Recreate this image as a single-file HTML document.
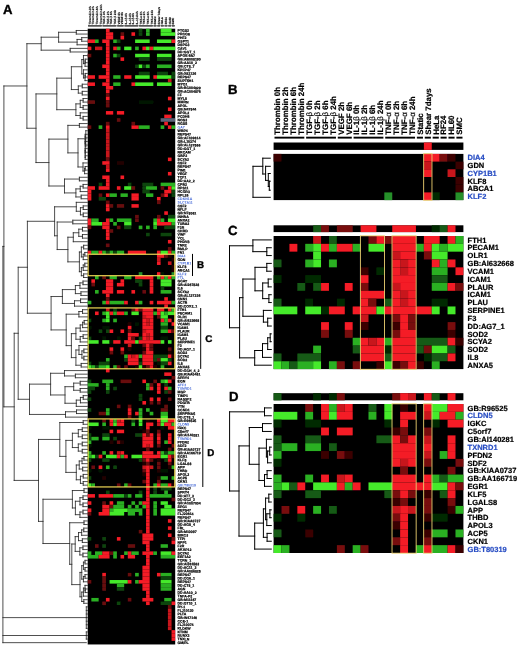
<!DOCTYPE html>
<html><head><meta charset="utf-8"><title>Figure</title>
<style>html,body{margin:0;padding:0;background:#fff}svg{display:block}text{font-family:"Liberation Sans", Arial, Helvetica, sans-serif;font-weight:bold;fill:#000;text-rendering:geometricPrecision}</style>
</head><body>
<svg width="520" height="646" viewBox="0 0 520 646">
<defs><filter id="bl" x="-2%" y="-1%" width="104%" height="102%"><feGaussianBlur stdDeviation="0.75"/></filter>
<filter id="bl2" x="-2%" y="-2%" width="104%" height="104%"><feGaussianBlur stdDeviation="0.5"/></filter></defs>
<rect width="520" height="646" fill="#fff"/>
<text x="3" y="13.8" font-size="13.2" stroke="#000" stroke-width="0.35">A</text>
<text x="228" y="94.1" font-size="13.2" stroke="#000" stroke-width="0.35">B</text>
<text x="228" y="235.2" font-size="13.2" stroke="#000" stroke-width="0.35">C</text>
<text x="229" y="401" font-size="13.2" stroke="#000" stroke-width="0.35">D</text>
<g id="panelA">
<g filter="url(#bl)">
<rect x="87.7" y="28.7" width="87.5" height="615.76" fill="#000"/>
<rect x="105.93" y="28.7" width="3.65" height="3.58" fill="#f41a26"/>
<rect x="138.74" y="28.7" width="3.65" height="3.58" fill="#0d450d"/>
<rect x="146.03" y="28.7" width="3.65" height="3.58" fill="#2cb024"/>
<rect x="160.62" y="28.7" width="10.94" height="3.58" fill="#44ea2c"/>
<rect x="105.93" y="32.28" width="7.29" height="3.58" fill="#f41a26"/>
<rect x="120.51" y="32.28" width="3.65" height="3.58" fill="#680a0e"/>
<rect x="131.45" y="32.28" width="3.65" height="3.58" fill="#f41a26"/>
<rect x="138.74" y="32.28" width="3.65" height="3.58" fill="#0d450d"/>
<rect x="146.03" y="32.28" width="3.65" height="3.58" fill="#2cb024"/>
<rect x="160.62" y="32.28" width="14.58" height="3.58" fill="#44ea2c"/>
<rect x="105.93" y="35.86" width="7.29" height="3.58" fill="#f41a26"/>
<rect x="120.51" y="35.86" width="3.65" height="3.58" fill="#f41a26"/>
<rect x="87.7" y="39.44" width="7.29" height="3.58" fill="#f41a26"/>
<rect x="94.99" y="39.44" width="3.65" height="3.58" fill="#2cb024"/>
<rect x="102.28" y="39.44" width="7.29" height="3.58" fill="#f41a26"/>
<rect x="113.22" y="39.44" width="3.65" height="3.58" fill="#2cb024"/>
<rect x="116.87" y="39.44" width="3.65" height="3.58" fill="#0d450d"/>
<rect x="135.1" y="39.44" width="14.58" height="3.58" fill="#44ea2c"/>
<rect x="156.97" y="39.44" width="14.58" height="3.58" fill="#44ea2c"/>
<rect x="171.55" y="39.44" width="3.65" height="3.58" fill="#f41a26"/>
<rect x="105.93" y="43.02" width="3.65" height="3.58" fill="#f41a26"/>
<rect x="87.7" y="46.6" width="3.65" height="3.58" fill="#f41a26"/>
<rect x="94.99" y="46.6" width="7.29" height="3.58" fill="#c8161e"/>
<rect x="105.93" y="46.6" width="3.65" height="3.58" fill="#f41a26"/>
<rect x="113.22" y="46.6" width="3.65" height="3.58" fill="#f41a26"/>
<rect x="116.87" y="46.6" width="3.65" height="3.58" fill="#2cb024"/>
<rect x="124.16" y="46.6" width="7.29" height="3.58" fill="#44ea2c"/>
<rect x="135.1" y="46.6" width="3.65" height="3.58" fill="#2cb024"/>
<rect x="142.39" y="46.6" width="3.65" height="3.58" fill="#f41a26"/>
<rect x="146.03" y="46.6" width="3.65" height="3.58" fill="#44ea2c"/>
<rect x="149.68" y="46.6" width="3.65" height="3.58" fill="#f41a26"/>
<rect x="153.32" y="46.6" width="21.87" height="3.58" fill="#44ea2c"/>
<rect x="105.93" y="50.18" width="3.65" height="3.58" fill="#f41a26"/>
<rect x="87.7" y="53.76" width="3.65" height="3.58" fill="#680a0e"/>
<rect x="105.93" y="53.76" width="3.65" height="3.58" fill="#f41a26"/>
<rect x="113.22" y="53.76" width="3.65" height="3.58" fill="#2cb024"/>
<rect x="116.87" y="53.76" width="3.65" height="3.58" fill="#0d450d"/>
<rect x="135.1" y="53.76" width="14.58" height="3.58" fill="#44ea2c"/>
<rect x="156.97" y="53.76" width="14.58" height="3.58" fill="#44ea2c"/>
<rect x="105.93" y="57.34" width="3.65" height="3.58" fill="#f41a26"/>
<rect x="120.51" y="57.34" width="3.65" height="3.58" fill="#f41a26"/>
<rect x="138.74" y="57.34" width="10.94" height="3.58" fill="#0d450d"/>
<rect x="156.97" y="57.34" width="14.58" height="3.58" fill="#0d450d"/>
<rect x="105.93" y="60.92" width="3.65" height="3.58" fill="#f41a26"/>
<rect x="102.28" y="64.5" width="7.29" height="3.58" fill="#f41a26"/>
<rect x="135.1" y="64.5" width="3.65" height="3.58" fill="#0d450d"/>
<rect x="138.74" y="64.5" width="3.65" height="3.58" fill="#44ea2c"/>
<rect x="142.39" y="64.5" width="3.65" height="3.58" fill="#0d450d"/>
<rect x="146.03" y="64.5" width="3.65" height="3.58" fill="#2cb024"/>
<rect x="156.97" y="64.5" width="14.58" height="3.58" fill="#2cb024"/>
<rect x="105.93" y="68.08" width="3.65" height="3.58" fill="#f41a26"/>
<rect x="105.93" y="71.66" width="3.65" height="3.58" fill="#f41a26"/>
<rect x="138.74" y="71.66" width="10.94" height="3.58" fill="#0d450d"/>
<rect x="156.97" y="71.66" width="10.94" height="3.58" fill="#0d450d"/>
<rect x="171.55" y="71.66" width="3.65" height="3.58" fill="#0d450d"/>
<rect x="87.7" y="75.24" width="7.29" height="3.58" fill="#f41a26"/>
<rect x="98.64" y="75.24" width="10.94" height="3.58" fill="#f41a26"/>
<rect x="113.22" y="75.24" width="7.29" height="3.58" fill="#2cb024"/>
<rect x="124.16" y="75.24" width="7.29" height="3.58" fill="#f41a26"/>
<rect x="135.1" y="75.24" width="14.58" height="3.58" fill="#44ea2c"/>
<rect x="153.32" y="75.24" width="3.65" height="3.58" fill="#f41a26"/>
<rect x="156.97" y="75.24" width="14.58" height="3.58" fill="#44ea2c"/>
<rect x="171.55" y="75.24" width="3.65" height="3.58" fill="#0d450d"/>
<rect x="105.93" y="78.82" width="3.65" height="3.58" fill="#f41a26"/>
<rect x="167.91" y="78.82" width="3.65" height="3.58" fill="#c8161e"/>
<rect x="87.7" y="82.4" width="7.29" height="3.58" fill="#f41a26"/>
<rect x="102.28" y="82.4" width="7.29" height="3.58" fill="#f41a26"/>
<rect x="113.22" y="82.4" width="7.29" height="3.58" fill="#2cb024"/>
<rect x="131.45" y="82.4" width="3.65" height="3.58" fill="#f41a26"/>
<rect x="135.1" y="82.4" width="18.23" height="3.58" fill="#44ea2c"/>
<rect x="156.97" y="82.4" width="14.58" height="3.58" fill="#44ea2c"/>
<rect x="105.93" y="85.98" width="7.29" height="3.58" fill="#f41a26"/>
<rect x="105.93" y="89.56" width="3.65" height="3.58" fill="#f41a26"/>
<rect x="105.93" y="93.14" width="3.65" height="3.58" fill="#680a0e"/>
<rect x="105.93" y="96.72" width="3.65" height="3.58" fill="#f41a26"/>
<rect x="167.91" y="96.72" width="3.65" height="3.58" fill="#f41a26"/>
<rect x="87.7" y="100.3" width="7.29" height="3.58" fill="#680a0e"/>
<rect x="105.93" y="100.3" width="3.65" height="3.58" fill="#680a0e"/>
<rect x="138.74" y="100.3" width="14.58" height="3.58" fill="#031803"/>
<rect x="105.93" y="103.88" width="3.65" height="3.58" fill="#680a0e"/>
<rect x="167.91" y="107.46" width="3.65" height="3.58" fill="#f41a26"/>
<rect x="105.93" y="111.04" width="7.29" height="3.58" fill="#f41a26"/>
<rect x="116.87" y="111.04" width="7.29" height="3.58" fill="#f41a26"/>
<rect x="164.26" y="114.62" width="7.29" height="3.58" fill="#f41a26"/>
<rect x="116.87" y="118.2" width="3.65" height="3.58" fill="#680a0e"/>
<rect x="160.62" y="118.2" width="14.58" height="3.58" fill="#5c6478"/>
<rect x="105.93" y="121.78" width="3.65" height="3.58" fill="#680a0e"/>
<rect x="131.45" y="121.78" width="3.65" height="3.58" fill="#680a0e"/>
<rect x="164.26" y="121.78" width="3.65" height="3.58" fill="#f41a26"/>
<rect x="87.7" y="125.36" width="3.65" height="3.58" fill="#680a0e"/>
<rect x="98.64" y="125.36" width="3.65" height="3.58" fill="#2cb024"/>
<rect x="105.93" y="125.36" width="3.65" height="3.58" fill="#f41a26"/>
<rect x="131.45" y="125.36" width="7.29" height="3.58" fill="#f41a26"/>
<rect x="138.74" y="125.36" width="10.94" height="3.58" fill="#2cb024"/>
<rect x="160.62" y="125.36" width="3.65" height="3.58" fill="#2cb024"/>
<rect x="167.91" y="125.36" width="3.65" height="3.58" fill="#f41a26"/>
<rect x="171.55" y="125.36" width="3.65" height="3.58" fill="#2cb024"/>
<rect x="105.93" y="128.94" width="3.65" height="3.58" fill="#c8161e"/>
<rect x="105.93" y="132.52" width="3.65" height="3.58" fill="#c8161e"/>
<rect x="105.93" y="136.1" width="3.65" height="3.58" fill="#c8161e"/>
<rect x="105.93" y="139.68" width="3.65" height="3.58" fill="#c8161e"/>
<rect x="105.93" y="143.26" width="3.65" height="3.58" fill="#c8161e"/>
<rect x="105.93" y="146.84" width="3.65" height="3.58" fill="#c8161e"/>
<rect x="105.93" y="150.42" width="3.65" height="3.58" fill="#c8161e"/>
<rect x="105.93" y="154" width="3.65" height="3.58" fill="#c8161e"/>
<rect x="105.93" y="157.58" width="3.65" height="3.58" fill="#680a0e"/>
<rect x="167.91" y="157.58" width="3.65" height="3.58" fill="#f41a26"/>
<rect x="102.28" y="161.16" width="7.29" height="3.58" fill="#f41a26"/>
<rect x="116.87" y="161.16" width="7.29" height="3.58" fill="#240203"/>
<rect x="105.93" y="164.74" width="3.65" height="3.58" fill="#c8161e"/>
<rect x="105.93" y="168.32" width="3.65" height="3.58" fill="#f41a26"/>
<rect x="167.91" y="171.9" width="3.65" height="3.58" fill="#f41a26"/>
<rect x="102.28" y="175.48" width="7.29" height="3.58" fill="#f41a26"/>
<rect x="120.51" y="175.48" width="3.65" height="3.58" fill="#f41a26"/>
<rect x="105.93" y="179.06" width="3.65" height="3.58" fill="#f41a26"/>
<rect x="98.64" y="182.64" width="3.65" height="3.58" fill="#0d450d"/>
<rect x="105.93" y="182.64" width="3.65" height="3.58" fill="#f41a26"/>
<rect x="127.8" y="182.64" width="3.65" height="3.58" fill="#0d450d"/>
<rect x="142.39" y="182.64" width="10.94" height="3.58" fill="#0d450d"/>
<rect x="160.62" y="182.64" width="14.58" height="3.58" fill="#2cb024"/>
<rect x="87.7" y="186.22" width="7.29" height="3.58" fill="#f41a26"/>
<rect x="98.64" y="186.22" width="10.94" height="3.58" fill="#f41a26"/>
<rect x="116.87" y="186.22" width="3.65" height="3.58" fill="#f41a26"/>
<rect x="124.16" y="186.22" width="7.29" height="3.58" fill="#44ea2c"/>
<rect x="131.45" y="186.22" width="3.65" height="3.58" fill="#680a0e"/>
<rect x="142.39" y="186.22" width="3.65" height="3.58" fill="#0d450d"/>
<rect x="146.03" y="186.22" width="10.94" height="3.58" fill="#2cb024"/>
<rect x="160.62" y="186.22" width="3.65" height="3.58" fill="#680a0e"/>
<rect x="167.91" y="186.22" width="3.65" height="3.58" fill="#f41a26"/>
<rect x="171.55" y="186.22" width="3.65" height="3.58" fill="#44ea2c"/>
<rect x="87.7" y="189.8" width="3.65" height="3.58" fill="#f41a26"/>
<rect x="142.39" y="189.8" width="7.29" height="3.58" fill="#0d450d"/>
<rect x="164.26" y="189.8" width="7.29" height="3.58" fill="#f41a26"/>
<rect x="171.55" y="189.8" width="3.65" height="3.58" fill="#0d450d"/>
<rect x="87.7" y="193.38" width="3.65" height="3.58" fill="#f41a26"/>
<rect x="98.64" y="193.38" width="3.65" height="3.58" fill="#680a0e"/>
<rect x="105.93" y="193.38" width="3.65" height="3.58" fill="#f41a26"/>
<rect x="109.58" y="193.38" width="7.29" height="3.58" fill="#2cb024"/>
<rect x="120.51" y="193.38" width="7.29" height="3.58" fill="#2cb024"/>
<rect x="131.45" y="193.38" width="7.29" height="3.58" fill="#f41a26"/>
<rect x="146.03" y="193.38" width="7.29" height="3.58" fill="#2cb024"/>
<rect x="160.62" y="193.38" width="3.65" height="3.58" fill="#680a0e"/>
<rect x="164.26" y="193.38" width="3.65" height="3.58" fill="#f41a26"/>
<rect x="171.55" y="193.38" width="3.65" height="3.58" fill="#0d450d"/>
<rect x="87.7" y="196.96" width="3.65" height="3.58" fill="#f41a26"/>
<rect x="98.64" y="196.96" width="7.29" height="3.58" fill="#0d450d"/>
<rect x="131.45" y="196.96" width="7.29" height="3.58" fill="#f41a26"/>
<rect x="156.97" y="196.96" width="3.65" height="3.58" fill="#f41a26"/>
<rect x="105.93" y="200.54" width="3.65" height="3.58" fill="#680a0e"/>
<rect x="156.97" y="200.54" width="3.65" height="3.58" fill="#680a0e"/>
<rect x="105.93" y="204.12" width="3.65" height="3.58" fill="#f41a26"/>
<rect x="109.58" y="204.12" width="3.65" height="3.58" fill="#680a0e"/>
<rect x="116.87" y="204.12" width="7.29" height="3.58" fill="#680a0e"/>
<rect x="131.45" y="204.12" width="7.29" height="3.58" fill="#f41a26"/>
<rect x="105.93" y="207.7" width="3.65" height="3.58" fill="#f41a26"/>
<rect x="164.26" y="211.28" width="3.65" height="3.58" fill="#f41a26"/>
<rect x="135.1" y="214.86" width="3.65" height="3.58" fill="#680a0e"/>
<rect x="156.97" y="214.86" width="3.65" height="3.58" fill="#680a0e"/>
<rect x="167.91" y="214.86" width="7.29" height="3.58" fill="#0d450d"/>
<rect x="87.7" y="218.44" width="3.65" height="3.58" fill="#f41a26"/>
<rect x="91.35" y="218.44" width="7.29" height="3.58" fill="#2cb024"/>
<rect x="105.93" y="218.44" width="3.65" height="3.58" fill="#f41a26"/>
<rect x="109.58" y="218.44" width="3.65" height="3.58" fill="#2cb024"/>
<rect x="116.87" y="218.44" width="14.58" height="3.58" fill="#2cb024"/>
<rect x="135.1" y="218.44" width="3.65" height="3.58" fill="#680a0e"/>
<rect x="153.32" y="218.44" width="3.65" height="3.58" fill="#2cb024"/>
<rect x="156.97" y="218.44" width="3.65" height="3.58" fill="#f41a26"/>
<rect x="160.62" y="218.44" width="3.65" height="3.58" fill="#2cb024"/>
<rect x="167.91" y="218.44" width="7.29" height="3.58" fill="#44ea2c"/>
<rect x="87.7" y="222.02" width="3.65" height="3.58" fill="#f41a26"/>
<rect x="91.35" y="222.02" width="10.94" height="3.58" fill="#44ea2c"/>
<rect x="102.28" y="222.02" width="7.29" height="3.58" fill="#f41a26"/>
<rect x="113.22" y="222.02" width="3.65" height="3.58" fill="#2cb024"/>
<rect x="124.16" y="222.02" width="7.29" height="3.58" fill="#44ea2c"/>
<rect x="153.32" y="222.02" width="3.65" height="3.58" fill="#44ea2c"/>
<rect x="156.97" y="222.02" width="14.58" height="3.58" fill="#f41a26"/>
<rect x="171.55" y="222.02" width="3.65" height="3.58" fill="#2cb024"/>
<rect x="87.7" y="225.6" width="3.65" height="3.58" fill="#680a0e"/>
<rect x="102.28" y="225.6" width="7.29" height="3.58" fill="#f41a26"/>
<rect x="116.87" y="225.6" width="3.65" height="3.58" fill="#680a0e"/>
<rect x="124.16" y="225.6" width="7.29" height="3.58" fill="#0d450d"/>
<rect x="138.74" y="225.6" width="3.65" height="3.58" fill="#2cb024"/>
<rect x="146.03" y="225.6" width="3.65" height="3.58" fill="#2cb024"/>
<rect x="153.32" y="225.6" width="3.65" height="3.58" fill="#2cb024"/>
<rect x="164.26" y="225.6" width="10.94" height="3.58" fill="#0d450d"/>
<rect x="105.93" y="229.18" width="3.65" height="3.58" fill="#f41a26"/>
<rect x="109.58" y="229.18" width="3.65" height="3.58" fill="#680a0e"/>
<rect x="105.93" y="232.76" width="3.65" height="3.58" fill="#f41a26"/>
<rect x="146.03" y="232.76" width="3.65" height="3.58" fill="#0d450d"/>
<rect x="160.62" y="232.76" width="10.94" height="3.58" fill="#0d450d"/>
<rect x="105.93" y="236.34" width="3.65" height="3.58" fill="#f41a26"/>
<rect x="167.91" y="239.92" width="3.65" height="3.58" fill="#f41a26"/>
<rect x="105.93" y="243.5" width="3.65" height="3.58" fill="#680a0e"/>
<rect x="167.91" y="247.08" width="3.65" height="3.58" fill="#680a0e"/>
<rect x="87.7" y="250.66" width="3.65" height="3.58" fill="#f41a26"/>
<rect x="91.35" y="250.66" width="7.29" height="3.58" fill="#2cb024"/>
<rect x="98.64" y="250.66" width="3.65" height="3.58" fill="#f41a26"/>
<rect x="102.28" y="250.66" width="3.65" height="3.58" fill="#2cb024"/>
<rect x="105.93" y="250.66" width="3.65" height="3.58" fill="#0d450d"/>
<rect x="109.58" y="250.66" width="3.65" height="3.58" fill="#2cb024"/>
<rect x="113.22" y="250.66" width="3.65" height="3.58" fill="#0d450d"/>
<rect x="116.87" y="250.66" width="7.29" height="3.58" fill="#2cb024"/>
<rect x="127.8" y="250.66" width="18.23" height="3.58" fill="#f41a26"/>
<rect x="156.97" y="250.66" width="3.65" height="3.58" fill="#f41a26"/>
<rect x="160.62" y="250.66" width="7.29" height="3.58" fill="#44ea2c"/>
<rect x="167.91" y="250.66" width="3.65" height="3.58" fill="#f41a26"/>
<rect x="171.55" y="250.66" width="3.65" height="3.58" fill="#2cb024"/>
<rect x="87.7" y="254.24" width="3.65" height="3.58" fill="#240203"/>
<rect x="156.97" y="254.24" width="7.29" height="3.58" fill="#f41a26"/>
<rect x="164.26" y="254.24" width="3.65" height="3.58" fill="#680a0e"/>
<rect x="167.91" y="254.24" width="3.65" height="3.58" fill="#240203"/>
<rect x="156.97" y="257.82" width="3.65" height="3.58" fill="#c8161e"/>
<rect x="171.55" y="257.82" width="3.65" height="3.58" fill="#240203"/>
<rect x="156.97" y="261.4" width="3.65" height="3.58" fill="#f41a26"/>
<rect x="167.91" y="261.4" width="3.65" height="3.58" fill="#c8161e"/>
<rect x="171.55" y="264.98" width="3.65" height="3.58" fill="#240203"/>
<rect x="171.55" y="268.56" width="3.65" height="3.58" fill="#240203"/>
<rect x="138.74" y="272.14" width="3.65" height="3.58" fill="#25902a"/>
<rect x="156.97" y="272.14" width="3.65" height="3.58" fill="#f41a26"/>
<rect x="160.62" y="272.14" width="3.65" height="3.58" fill="#031803"/>
<rect x="171.55" y="272.14" width="3.65" height="3.58" fill="#25902a"/>
<rect x="94.99" y="275.72" width="3.65" height="3.58" fill="#2cb024"/>
<rect x="102.28" y="275.72" width="3.65" height="3.58" fill="#680a0e"/>
<rect x="109.58" y="275.72" width="7.29" height="3.58" fill="#2cb024"/>
<rect x="124.16" y="275.72" width="7.29" height="3.58" fill="#2cb024"/>
<rect x="135.1" y="275.72" width="18.23" height="3.58" fill="#f41a26"/>
<rect x="156.97" y="275.72" width="3.65" height="3.58" fill="#2cb024"/>
<rect x="160.62" y="275.72" width="3.65" height="3.58" fill="#f41a26"/>
<rect x="164.26" y="275.72" width="3.65" height="3.58" fill="#2cb024"/>
<rect x="167.91" y="275.72" width="3.65" height="3.58" fill="#f41a26"/>
<rect x="171.55" y="275.72" width="3.65" height="3.58" fill="#2cb024"/>
<rect x="91.35" y="279.3" width="3.65" height="3.58" fill="#f41a26"/>
<rect x="105.93" y="279.3" width="7.29" height="3.58" fill="#f41a26"/>
<rect x="120.51" y="279.3" width="3.65" height="3.58" fill="#f41a26"/>
<rect x="135.1" y="279.3" width="7.29" height="3.58" fill="#0d450d"/>
<rect x="149.68" y="279.3" width="3.65" height="3.58" fill="#f41a26"/>
<rect x="160.62" y="279.3" width="10.94" height="3.58" fill="#44ea2c"/>
<rect x="91.35" y="282.88" width="3.65" height="3.58" fill="#680a0e"/>
<rect x="105.93" y="282.88" width="7.29" height="3.58" fill="#f41a26"/>
<rect x="116.87" y="282.88" width="7.29" height="3.58" fill="#f41a26"/>
<rect x="138.74" y="282.88" width="3.65" height="3.58" fill="#0d450d"/>
<rect x="149.68" y="282.88" width="3.65" height="3.58" fill="#f41a26"/>
<rect x="160.62" y="282.88" width="10.94" height="3.58" fill="#44ea2c"/>
<rect x="105.93" y="286.46" width="7.29" height="3.58" fill="#f41a26"/>
<rect x="149.68" y="286.46" width="3.65" height="3.58" fill="#f41a26"/>
<rect x="160.62" y="286.46" width="3.65" height="3.58" fill="#0d450d"/>
<rect x="94.99" y="290.04" width="3.65" height="3.58" fill="#2cb024"/>
<rect x="102.28" y="290.04" width="10.94" height="3.58" fill="#f41a26"/>
<rect x="116.87" y="290.04" width="7.29" height="3.58" fill="#f41a26"/>
<rect x="131.45" y="290.04" width="3.65" height="3.58" fill="#f41a26"/>
<rect x="142.39" y="290.04" width="3.65" height="3.58" fill="#680a0e"/>
<rect x="149.68" y="290.04" width="3.65" height="3.58" fill="#f41a26"/>
<rect x="160.62" y="290.04" width="10.94" height="3.58" fill="#2cb024"/>
<rect x="105.93" y="293.62" width="3.65" height="3.58" fill="#f41a26"/>
<rect x="105.93" y="297.2" width="3.65" height="3.58" fill="#680a0e"/>
<rect x="164.26" y="297.2" width="3.65" height="3.58" fill="#f41a26"/>
<rect x="87.7" y="300.78" width="3.65" height="3.58" fill="#2cb024"/>
<rect x="102.28" y="300.78" width="3.65" height="3.58" fill="#2cb024"/>
<rect x="105.93" y="300.78" width="3.65" height="3.58" fill="#f41a26"/>
<rect x="109.58" y="300.78" width="14.58" height="3.58" fill="#2cb024"/>
<rect x="124.16" y="300.78" width="3.65" height="3.58" fill="#f41a26"/>
<rect x="135.1" y="300.78" width="3.65" height="3.58" fill="#f41a26"/>
<rect x="138.74" y="300.78" width="3.65" height="3.58" fill="#2cb024"/>
<rect x="149.68" y="300.78" width="3.65" height="3.58" fill="#f41a26"/>
<rect x="156.97" y="300.78" width="14.58" height="3.58" fill="#f41a26"/>
<rect x="171.55" y="300.78" width="3.65" height="3.58" fill="#2cb024"/>
<rect x="164.26" y="304.36" width="3.65" height="3.58" fill="#f41a26"/>
<rect x="105.93" y="307.94" width="3.65" height="3.58" fill="#c8161e"/>
<rect x="113.22" y="307.94" width="3.65" height="3.58" fill="#0d450d"/>
<rect x="131.45" y="307.94" width="3.65" height="3.58" fill="#680a0e"/>
<rect x="135.1" y="307.94" width="3.65" height="3.58" fill="#f41a26"/>
<rect x="138.74" y="307.94" width="3.65" height="3.58" fill="#680a0e"/>
<rect x="142.39" y="307.94" width="10.94" height="3.58" fill="#f41a26"/>
<rect x="156.97" y="307.94" width="7.29" height="3.58" fill="#f41a26"/>
<rect x="167.91" y="307.94" width="3.65" height="3.58" fill="#f41a26"/>
<rect x="171.55" y="307.94" width="3.65" height="3.58" fill="#2cb024"/>
<rect x="94.99" y="311.52" width="3.65" height="3.58" fill="#f41a26"/>
<rect x="102.28" y="311.52" width="3.65" height="3.58" fill="#2cb024"/>
<rect x="105.93" y="311.52" width="3.65" height="3.58" fill="#44ea2c"/>
<rect x="109.58" y="311.52" width="3.65" height="3.58" fill="#f41a26"/>
<rect x="113.22" y="311.52" width="3.65" height="3.58" fill="#2cb024"/>
<rect x="116.87" y="311.52" width="7.29" height="3.58" fill="#f41a26"/>
<rect x="124.16" y="311.52" width="3.65" height="3.58" fill="#2cb024"/>
<rect x="131.45" y="311.52" width="7.29" height="3.58" fill="#44ea2c"/>
<rect x="142.39" y="311.52" width="10.94" height="3.58" fill="#f41a26"/>
<rect x="153.32" y="311.52" width="3.65" height="3.58" fill="#2cb024"/>
<rect x="156.97" y="311.52" width="3.65" height="3.58" fill="#f41a26"/>
<rect x="160.62" y="311.52" width="3.65" height="3.58" fill="#44ea2c"/>
<rect x="164.26" y="311.52" width="3.65" height="3.58" fill="#2cb024"/>
<rect x="167.91" y="311.52" width="7.29" height="3.58" fill="#44ea2c"/>
<rect x="105.93" y="315.1" width="3.65" height="3.58" fill="#44ea2c"/>
<rect x="142.39" y="315.1" width="3.65" height="3.58" fill="#c8161e"/>
<rect x="146.03" y="315.1" width="7.29" height="3.58" fill="#f41a26"/>
<rect x="156.97" y="315.1" width="3.65" height="3.58" fill="#680a0e"/>
<rect x="160.62" y="315.1" width="7.29" height="3.58" fill="#44ea2c"/>
<rect x="87.7" y="318.68" width="3.65" height="3.58" fill="#0d450d"/>
<rect x="102.28" y="318.68" width="3.65" height="3.58" fill="#2cb024"/>
<rect x="105.93" y="318.68" width="3.65" height="3.58" fill="#44ea2c"/>
<rect x="113.22" y="318.68" width="3.65" height="3.58" fill="#2cb024"/>
<rect x="142.39" y="318.68" width="3.65" height="3.58" fill="#f41a26"/>
<rect x="146.03" y="318.68" width="3.65" height="3.58" fill="#c8161e"/>
<rect x="149.68" y="318.68" width="3.65" height="3.58" fill="#f41a26"/>
<rect x="160.62" y="318.68" width="3.65" height="3.58" fill="#f41a26"/>
<rect x="164.26" y="318.68" width="3.65" height="3.58" fill="#2cb024"/>
<rect x="167.91" y="318.68" width="3.65" height="3.58" fill="#f41a26"/>
<rect x="127.8" y="322.26" width="3.65" height="3.58" fill="#240203"/>
<rect x="135.1" y="322.26" width="3.65" height="3.58" fill="#031803"/>
<rect x="142.39" y="322.26" width="3.65" height="3.58" fill="#f41a26"/>
<rect x="146.03" y="322.26" width="3.65" height="3.58" fill="#c8161e"/>
<rect x="149.68" y="322.26" width="3.65" height="3.58" fill="#f41a26"/>
<rect x="160.62" y="322.26" width="7.29" height="3.58" fill="#2cb024"/>
<rect x="171.55" y="322.26" width="3.65" height="3.58" fill="#f41a26"/>
<rect x="87.7" y="325.84" width="3.65" height="3.58" fill="#031803"/>
<rect x="102.28" y="325.84" width="7.29" height="3.58" fill="#031803"/>
<rect x="127.8" y="325.84" width="3.65" height="3.58" fill="#f41a26"/>
<rect x="142.39" y="325.84" width="10.94" height="3.58" fill="#f41a26"/>
<rect x="160.62" y="325.84" width="7.29" height="3.58" fill="#0d450d"/>
<rect x="98.64" y="329.42" width="3.65" height="3.58" fill="#0d450d"/>
<rect x="105.93" y="329.42" width="3.65" height="3.58" fill="#0d450d"/>
<rect x="109.58" y="329.42" width="3.65" height="3.58" fill="#f41a26"/>
<rect x="120.51" y="329.42" width="3.65" height="3.58" fill="#f41a26"/>
<rect x="127.8" y="329.42" width="3.65" height="3.58" fill="#680a0e"/>
<rect x="142.39" y="329.42" width="3.65" height="3.58" fill="#c8161e"/>
<rect x="146.03" y="329.42" width="7.29" height="3.58" fill="#f41a26"/>
<rect x="160.62" y="329.42" width="7.29" height="3.58" fill="#2cb024"/>
<rect x="167.91" y="329.42" width="3.65" height="3.58" fill="#f41a26"/>
<rect x="171.55" y="329.42" width="3.65" height="3.58" fill="#680a0e"/>
<rect x="127.8" y="333" width="10.94" height="3.58" fill="#f41a26"/>
<rect x="142.39" y="333" width="3.65" height="3.58" fill="#f41a26"/>
<rect x="146.03" y="333" width="3.65" height="3.58" fill="#c8161e"/>
<rect x="149.68" y="333" width="3.65" height="3.58" fill="#f41a26"/>
<rect x="87.7" y="336.58" width="3.65" height="3.58" fill="#0d450d"/>
<rect x="102.28" y="336.58" width="3.65" height="3.58" fill="#031803"/>
<rect x="116.87" y="336.58" width="3.65" height="3.58" fill="#031803"/>
<rect x="127.8" y="336.58" width="3.65" height="3.58" fill="#f41a26"/>
<rect x="131.45" y="336.58" width="3.65" height="3.58" fill="#680a0e"/>
<rect x="138.74" y="336.58" width="3.65" height="3.58" fill="#0d450d"/>
<rect x="142.39" y="336.58" width="3.65" height="3.58" fill="#f41a26"/>
<rect x="146.03" y="336.58" width="3.65" height="3.58" fill="#c8161e"/>
<rect x="149.68" y="336.58" width="3.65" height="3.58" fill="#f41a26"/>
<rect x="160.62" y="336.58" width="7.29" height="3.58" fill="#031803"/>
<rect x="87.7" y="340.16" width="10.94" height="3.58" fill="#44ea2c"/>
<rect x="102.28" y="340.16" width="7.29" height="3.58" fill="#44ea2c"/>
<rect x="109.58" y="340.16" width="3.65" height="3.58" fill="#031803"/>
<rect x="113.22" y="340.16" width="7.29" height="3.58" fill="#f41a26"/>
<rect x="124.16" y="340.16" width="10.94" height="3.58" fill="#f41a26"/>
<rect x="135.1" y="340.16" width="3.65" height="3.58" fill="#44ea2c"/>
<rect x="138.74" y="340.16" width="21.87" height="3.58" fill="#f41a26"/>
<rect x="160.62" y="340.16" width="3.65" height="3.58" fill="#44ea2c"/>
<rect x="167.91" y="340.16" width="3.65" height="3.58" fill="#44ea2c"/>
<rect x="127.8" y="343.74" width="3.65" height="3.58" fill="#c8161e"/>
<rect x="142.39" y="343.74" width="3.65" height="3.58" fill="#680a0e"/>
<rect x="146.03" y="343.74" width="3.65" height="3.58" fill="#f41a26"/>
<rect x="149.68" y="343.74" width="3.65" height="3.58" fill="#680a0e"/>
<rect x="109.58" y="347.32" width="3.65" height="3.58" fill="#f41a26"/>
<rect x="120.51" y="347.32" width="3.65" height="3.58" fill="#f41a26"/>
<rect x="127.8" y="347.32" width="3.65" height="3.58" fill="#240203"/>
<rect x="142.39" y="347.32" width="3.65" height="3.58" fill="#240203"/>
<rect x="146.03" y="347.32" width="3.65" height="3.58" fill="#f41a26"/>
<rect x="149.68" y="347.32" width="3.65" height="3.58" fill="#680a0e"/>
<rect x="167.91" y="347.32" width="3.65" height="3.58" fill="#680a0e"/>
<rect x="109.58" y="350.9" width="3.65" height="3.58" fill="#680a0e"/>
<rect x="120.51" y="350.9" width="3.65" height="3.58" fill="#680a0e"/>
<rect x="142.39" y="350.9" width="3.65" height="3.58" fill="#680a0e"/>
<rect x="146.03" y="350.9" width="7.29" height="3.58" fill="#f41a26"/>
<rect x="167.91" y="350.9" width="3.65" height="3.58" fill="#240203"/>
<rect x="124.16" y="354.48" width="3.65" height="3.58" fill="#2cb024"/>
<rect x="127.8" y="354.48" width="3.65" height="3.58" fill="#f41a26"/>
<rect x="131.45" y="354.48" width="3.65" height="3.58" fill="#c8161e"/>
<rect x="135.1" y="354.48" width="3.65" height="3.58" fill="#f41a26"/>
<rect x="138.74" y="354.48" width="3.65" height="3.58" fill="#2cb024"/>
<rect x="142.39" y="354.48" width="10.94" height="3.58" fill="#f41a26"/>
<rect x="153.32" y="354.48" width="14.58" height="3.58" fill="#0d450d"/>
<rect x="167.91" y="354.48" width="3.65" height="3.58" fill="#f41a26"/>
<rect x="171.55" y="354.48" width="3.65" height="3.58" fill="#240203"/>
<rect x="105.93" y="358.06" width="3.65" height="3.58" fill="#2cb024"/>
<rect x="124.16" y="358.06" width="3.65" height="3.58" fill="#0d450d"/>
<rect x="127.8" y="358.06" width="10.94" height="3.58" fill="#f41a26"/>
<rect x="138.74" y="358.06" width="3.65" height="3.58" fill="#031803"/>
<rect x="142.39" y="358.06" width="10.94" height="3.58" fill="#f41a26"/>
<rect x="153.32" y="358.06" width="3.65" height="3.58" fill="#0d450d"/>
<rect x="156.97" y="358.06" width="3.65" height="3.58" fill="#680a0e"/>
<rect x="160.62" y="358.06" width="7.29" height="3.58" fill="#44ea2c"/>
<rect x="167.91" y="358.06" width="3.65" height="3.58" fill="#0d450d"/>
<rect x="87.7" y="361.64" width="3.65" height="3.58" fill="#0d450d"/>
<rect x="98.64" y="361.64" width="10.94" height="3.58" fill="#0d450d"/>
<rect x="127.8" y="361.64" width="10.94" height="3.58" fill="#f41a26"/>
<rect x="138.74" y="361.64" width="3.65" height="3.58" fill="#0d450d"/>
<rect x="142.39" y="361.64" width="10.94" height="3.58" fill="#f41a26"/>
<rect x="156.97" y="361.64" width="3.65" height="3.58" fill="#031803"/>
<rect x="160.62" y="361.64" width="7.29" height="3.58" fill="#0d450d"/>
<rect x="167.91" y="361.64" width="3.65" height="3.58" fill="#f41a26"/>
<rect x="87.7" y="365.22" width="3.65" height="3.58" fill="#44ea2c"/>
<rect x="91.35" y="365.22" width="3.65" height="3.58" fill="#2cb024"/>
<rect x="94.99" y="365.22" width="3.65" height="3.58" fill="#0d450d"/>
<rect x="98.64" y="365.22" width="7.29" height="3.58" fill="#2cb024"/>
<rect x="105.93" y="365.22" width="3.65" height="3.58" fill="#44ea2c"/>
<rect x="113.22" y="365.22" width="3.65" height="3.58" fill="#2cb024"/>
<rect x="116.87" y="365.22" width="3.65" height="3.58" fill="#680a0e"/>
<rect x="124.16" y="365.22" width="3.65" height="3.58" fill="#680a0e"/>
<rect x="135.1" y="365.22" width="3.65" height="3.58" fill="#240203"/>
<rect x="138.74" y="365.22" width="3.65" height="3.58" fill="#44ea2c"/>
<rect x="142.39" y="365.22" width="3.65" height="3.58" fill="#240203"/>
<rect x="146.03" y="365.22" width="3.65" height="3.58" fill="#680a0e"/>
<rect x="149.68" y="365.22" width="3.65" height="3.58" fill="#f41a26"/>
<rect x="153.32" y="365.22" width="3.65" height="3.58" fill="#240203"/>
<rect x="160.62" y="365.22" width="3.65" height="3.58" fill="#2cb024"/>
<rect x="105.93" y="368.8" width="3.65" height="3.58" fill="#f41a26"/>
<rect x="164.26" y="372.38" width="7.29" height="3.58" fill="#f41a26"/>
<rect x="171.55" y="375.96" width="3.65" height="3.58" fill="#680a0e"/>
<rect x="87.7" y="379.54" width="3.65" height="3.58" fill="#0d450d"/>
<rect x="102.28" y="379.54" width="10.94" height="3.58" fill="#2cb024"/>
<rect x="120.51" y="379.54" width="10.94" height="3.58" fill="#680a0e"/>
<rect x="142.39" y="379.54" width="3.65" height="3.58" fill="#f41a26"/>
<rect x="153.32" y="379.54" width="3.65" height="3.58" fill="#680a0e"/>
<rect x="160.62" y="379.54" width="3.65" height="3.58" fill="#2cb024"/>
<rect x="164.26" y="379.54" width="3.65" height="3.58" fill="#44ea2c"/>
<rect x="167.91" y="379.54" width="3.65" height="3.58" fill="#f41a26"/>
<rect x="87.7" y="383.12" width="10.94" height="3.58" fill="#2cb024"/>
<rect x="105.93" y="383.12" width="3.65" height="3.58" fill="#2cb024"/>
<rect x="146.03" y="383.12" width="3.65" height="3.58" fill="#2cb024"/>
<rect x="149.68" y="383.12" width="3.65" height="3.58" fill="#680a0e"/>
<rect x="156.97" y="383.12" width="3.65" height="3.58" fill="#f41a26"/>
<rect x="164.26" y="383.12" width="3.65" height="3.58" fill="#0d450d"/>
<rect x="87.7" y="386.7" width="7.29" height="3.58" fill="#0d450d"/>
<rect x="105.93" y="386.7" width="3.65" height="3.58" fill="#2cb024"/>
<rect x="113.22" y="386.7" width="3.65" height="3.58" fill="#0d450d"/>
<rect x="146.03" y="386.7" width="3.65" height="3.58" fill="#2cb024"/>
<rect x="149.68" y="386.7" width="3.65" height="3.58" fill="#f41a26"/>
<rect x="156.97" y="386.7" width="3.65" height="3.58" fill="#f41a26"/>
<rect x="164.26" y="386.7" width="3.65" height="3.58" fill="#f41a26"/>
<rect x="167.91" y="386.7" width="3.65" height="3.58" fill="#2cb024"/>
<rect x="87.7" y="390.28" width="3.65" height="3.58" fill="#0d450d"/>
<rect x="105.93" y="390.28" width="3.65" height="3.58" fill="#0d450d"/>
<rect x="156.97" y="390.28" width="3.65" height="3.58" fill="#f41a26"/>
<rect x="164.26" y="390.28" width="3.65" height="3.58" fill="#0d450d"/>
<rect x="167.91" y="390.28" width="3.65" height="3.58" fill="#680a0e"/>
<rect x="138.74" y="393.86" width="3.65" height="3.58" fill="#0d450d"/>
<rect x="87.7" y="397.44" width="3.65" height="3.58" fill="#0d450d"/>
<rect x="138.74" y="397.44" width="3.65" height="3.58" fill="#0d450d"/>
<rect x="149.68" y="397.44" width="3.65" height="3.58" fill="#f41a26"/>
<rect x="156.97" y="397.44" width="3.65" height="3.58" fill="#f41a26"/>
<rect x="167.91" y="397.44" width="3.65" height="3.58" fill="#680a0e"/>
<rect x="142.39" y="401.02" width="3.65" height="3.58" fill="#f41a26"/>
<rect x="149.68" y="401.02" width="3.65" height="3.58" fill="#680a0e"/>
<rect x="156.97" y="401.02" width="3.65" height="3.58" fill="#680a0e"/>
<rect x="116.87" y="404.6" width="3.65" height="3.58" fill="#680a0e"/>
<rect x="127.8" y="404.6" width="3.65" height="3.58" fill="#680a0e"/>
<rect x="164.26" y="404.6" width="3.65" height="3.58" fill="#680a0e"/>
<rect x="87.7" y="408.18" width="3.65" height="3.58" fill="#0d450d"/>
<rect x="105.93" y="408.18" width="3.65" height="3.58" fill="#2cb024"/>
<rect x="127.8" y="408.18" width="3.65" height="3.58" fill="#f41a26"/>
<rect x="138.74" y="408.18" width="3.65" height="3.58" fill="#2cb024"/>
<rect x="146.03" y="408.18" width="3.65" height="3.58" fill="#2cb024"/>
<rect x="160.62" y="408.18" width="7.29" height="3.58" fill="#680a0e"/>
<rect x="98.64" y="411.76" width="7.29" height="3.58" fill="#680a0e"/>
<rect x="105.93" y="411.76" width="3.65" height="3.58" fill="#2cb024"/>
<rect x="127.8" y="411.76" width="3.65" height="3.58" fill="#f41a26"/>
<rect x="135.1" y="411.76" width="3.65" height="3.58" fill="#f41a26"/>
<rect x="138.74" y="411.76" width="3.65" height="3.58" fill="#2cb024"/>
<rect x="149.68" y="411.76" width="3.65" height="3.58" fill="#2cb024"/>
<rect x="160.62" y="411.76" width="7.29" height="3.58" fill="#2cb024"/>
<rect x="127.8" y="415.34" width="3.65" height="3.58" fill="#680a0e"/>
<rect x="138.74" y="415.34" width="3.65" height="3.58" fill="#2cb024"/>
<rect x="160.62" y="415.34" width="7.29" height="3.58" fill="#44ea2c"/>
<rect x="102.28" y="418.92" width="3.65" height="3.58" fill="#680a0e"/>
<rect x="109.58" y="418.92" width="3.65" height="3.58" fill="#f41a26"/>
<rect x="113.22" y="418.92" width="3.65" height="3.58" fill="#2cb024"/>
<rect x="116.87" y="418.92" width="3.65" height="3.58" fill="#c8161e"/>
<rect x="120.51" y="418.92" width="3.65" height="3.58" fill="#f41a26"/>
<rect x="131.45" y="418.92" width="3.65" height="3.58" fill="#0d450d"/>
<rect x="138.74" y="418.92" width="3.65" height="3.58" fill="#44ea2c"/>
<rect x="146.03" y="418.92" width="3.65" height="3.58" fill="#240203"/>
<rect x="156.97" y="418.92" width="3.65" height="3.58" fill="#f41a26"/>
<rect x="160.62" y="418.92" width="7.29" height="3.58" fill="#44ea2c"/>
<rect x="167.91" y="418.92" width="7.29" height="3.58" fill="#f41a26"/>
<rect x="87.7" y="422.5" width="10.94" height="3.58" fill="#44ea2c"/>
<rect x="102.28" y="422.5" width="3.65" height="3.58" fill="#2cb024"/>
<rect x="109.58" y="422.5" width="3.65" height="3.58" fill="#f41a26"/>
<rect x="113.22" y="422.5" width="3.65" height="3.58" fill="#44ea2c"/>
<rect x="116.87" y="422.5" width="7.29" height="3.58" fill="#f41a26"/>
<rect x="131.45" y="422.5" width="3.65" height="3.58" fill="#2cb024"/>
<rect x="138.74" y="422.5" width="3.65" height="3.58" fill="#44ea2c"/>
<rect x="146.03" y="422.5" width="7.29" height="3.58" fill="#f41a26"/>
<rect x="156.97" y="422.5" width="3.65" height="3.58" fill="#c8161e"/>
<rect x="160.62" y="422.5" width="3.65" height="3.58" fill="#44ea2c"/>
<rect x="164.26" y="422.5" width="7.29" height="3.58" fill="#f41a26"/>
<rect x="171.55" y="422.5" width="3.65" height="3.58" fill="#2cb024"/>
<rect x="87.7" y="426.08" width="3.65" height="3.58" fill="#031803"/>
<rect x="102.28" y="426.08" width="7.29" height="3.58" fill="#031803"/>
<rect x="138.74" y="426.08" width="3.65" height="3.58" fill="#031803"/>
<rect x="146.03" y="426.08" width="3.65" height="3.58" fill="#f41a26"/>
<rect x="160.62" y="426.08" width="3.65" height="3.58" fill="#031803"/>
<rect x="167.91" y="426.08" width="7.29" height="3.58" fill="#f41a26"/>
<rect x="109.58" y="429.66" width="3.65" height="3.58" fill="#f41a26"/>
<rect x="116.87" y="429.66" width="7.29" height="3.58" fill="#f41a26"/>
<rect x="142.39" y="429.66" width="3.65" height="3.58" fill="#240203"/>
<rect x="146.03" y="429.66" width="3.65" height="3.58" fill="#680a0e"/>
<rect x="156.97" y="429.66" width="3.65" height="3.58" fill="#680a0e"/>
<rect x="87.7" y="433.24" width="3.65" height="3.58" fill="#0d450d"/>
<rect x="102.28" y="433.24" width="7.29" height="3.58" fill="#0d450d"/>
<rect x="135.1" y="433.24" width="7.29" height="3.58" fill="#0d450d"/>
<rect x="142.39" y="433.24" width="3.65" height="3.58" fill="#f41a26"/>
<rect x="146.03" y="433.24" width="3.65" height="3.58" fill="#680a0e"/>
<rect x="149.68" y="433.24" width="3.65" height="3.58" fill="#f41a26"/>
<rect x="156.97" y="433.24" width="3.65" height="3.58" fill="#c8161e"/>
<rect x="167.91" y="433.24" width="3.65" height="3.58" fill="#f41a26"/>
<rect x="87.7" y="436.82" width="3.65" height="3.58" fill="#0d450d"/>
<rect x="91.35" y="436.82" width="7.29" height="3.58" fill="#2cb024"/>
<rect x="102.28" y="436.82" width="7.29" height="3.58" fill="#2cb024"/>
<rect x="113.22" y="436.82" width="3.65" height="3.58" fill="#0d450d"/>
<rect x="142.39" y="436.82" width="10.94" height="3.58" fill="#f41a26"/>
<rect x="156.97" y="436.82" width="3.65" height="3.58" fill="#f41a26"/>
<rect x="167.91" y="436.82" width="3.65" height="3.58" fill="#f41a26"/>
<rect x="87.7" y="440.4" width="3.65" height="3.58" fill="#2cb024"/>
<rect x="109.58" y="440.4" width="3.65" height="3.58" fill="#240203"/>
<rect x="116.87" y="440.4" width="3.65" height="3.58" fill="#680a0e"/>
<rect x="120.51" y="440.4" width="3.65" height="3.58" fill="#240203"/>
<rect x="142.39" y="440.4" width="10.94" height="3.58" fill="#f41a26"/>
<rect x="156.97" y="440.4" width="3.65" height="3.58" fill="#c8161e"/>
<rect x="164.26" y="440.4" width="3.65" height="3.58" fill="#2cb024"/>
<rect x="167.91" y="440.4" width="3.65" height="3.58" fill="#f41a26"/>
<rect x="87.7" y="443.98" width="3.65" height="3.58" fill="#031803"/>
<rect x="142.39" y="443.98" width="3.65" height="3.58" fill="#f41a26"/>
<rect x="146.03" y="443.98" width="3.65" height="3.58" fill="#c8161e"/>
<rect x="149.68" y="443.98" width="3.65" height="3.58" fill="#f41a26"/>
<rect x="156.97" y="443.98" width="3.65" height="3.58" fill="#680a0e"/>
<rect x="171.55" y="443.98" width="3.65" height="3.58" fill="#680a0e"/>
<rect x="146.03" y="447.56" width="3.65" height="3.58" fill="#680a0e"/>
<rect x="167.91" y="447.56" width="3.65" height="3.58" fill="#680a0e"/>
<rect x="87.7" y="451.14" width="3.65" height="3.58" fill="#2cb024"/>
<rect x="102.28" y="451.14" width="3.65" height="3.58" fill="#2cb024"/>
<rect x="109.58" y="451.14" width="3.65" height="3.58" fill="#f41a26"/>
<rect x="116.87" y="451.14" width="3.65" height="3.58" fill="#c8161e"/>
<rect x="120.51" y="451.14" width="3.65" height="3.58" fill="#f41a26"/>
<rect x="142.39" y="451.14" width="10.94" height="3.58" fill="#f41a26"/>
<rect x="156.97" y="451.14" width="3.65" height="3.58" fill="#f41a26"/>
<rect x="160.62" y="451.14" width="3.65" height="3.58" fill="#2cb024"/>
<rect x="164.26" y="451.14" width="3.65" height="3.58" fill="#0d450d"/>
<rect x="167.91" y="451.14" width="7.29" height="3.58" fill="#2cb024"/>
<rect x="87.7" y="454.72" width="3.65" height="3.58" fill="#2cb024"/>
<rect x="91.35" y="454.72" width="3.65" height="3.58" fill="#44ea2c"/>
<rect x="94.99" y="454.72" width="3.65" height="3.58" fill="#0d450d"/>
<rect x="98.64" y="454.72" width="3.65" height="3.58" fill="#f41a26"/>
<rect x="105.93" y="454.72" width="10.94" height="3.58" fill="#44ea2c"/>
<rect x="116.87" y="454.72" width="3.65" height="3.58" fill="#f41a26"/>
<rect x="120.51" y="454.72" width="3.65" height="3.58" fill="#2cb024"/>
<rect x="124.16" y="454.72" width="3.65" height="3.58" fill="#f41a26"/>
<rect x="131.45" y="454.72" width="10.94" height="3.58" fill="#44ea2c"/>
<rect x="142.39" y="454.72" width="18.23" height="3.58" fill="#f41a26"/>
<rect x="160.62" y="454.72" width="7.29" height="3.58" fill="#44ea2c"/>
<rect x="167.91" y="454.72" width="3.65" height="3.58" fill="#f41a26"/>
<rect x="171.55" y="454.72" width="3.65" height="3.58" fill="#680a0e"/>
<rect x="87.7" y="458.3" width="3.65" height="3.58" fill="#0d450d"/>
<rect x="102.28" y="458.3" width="7.29" height="3.58" fill="#0d450d"/>
<rect x="138.74" y="458.3" width="3.65" height="3.58" fill="#0d450d"/>
<rect x="142.39" y="458.3" width="3.65" height="3.58" fill="#680a0e"/>
<rect x="146.03" y="458.3" width="3.65" height="3.58" fill="#f41a26"/>
<rect x="149.68" y="458.3" width="3.65" height="3.58" fill="#680a0e"/>
<rect x="156.97" y="458.3" width="3.65" height="3.58" fill="#240203"/>
<rect x="164.26" y="458.3" width="3.65" height="3.58" fill="#0d450d"/>
<rect x="167.91" y="458.3" width="3.65" height="3.58" fill="#f41a26"/>
<rect x="142.39" y="461.88" width="3.65" height="3.58" fill="#240203"/>
<rect x="146.03" y="461.88" width="3.65" height="3.58" fill="#680a0e"/>
<rect x="156.97" y="461.88" width="3.65" height="3.58" fill="#680a0e"/>
<rect x="167.91" y="461.88" width="3.65" height="3.58" fill="#680a0e"/>
<rect x="91.35" y="465.46" width="3.65" height="3.58" fill="#680a0e"/>
<rect x="98.64" y="465.46" width="3.65" height="3.58" fill="#f41a26"/>
<rect x="105.93" y="465.46" width="3.65" height="3.58" fill="#2cb024"/>
<rect x="113.22" y="465.46" width="3.65" height="3.58" fill="#0d450d"/>
<rect x="142.39" y="465.46" width="3.65" height="3.58" fill="#c8161e"/>
<rect x="146.03" y="465.46" width="3.65" height="3.58" fill="#f41a26"/>
<rect x="149.68" y="465.46" width="3.65" height="3.58" fill="#c8161e"/>
<rect x="156.97" y="465.46" width="3.65" height="3.58" fill="#680a0e"/>
<rect x="167.91" y="465.46" width="3.65" height="3.58" fill="#240203"/>
<rect x="171.55" y="465.46" width="3.65" height="3.58" fill="#2cb024"/>
<rect x="87.7" y="469.04" width="3.65" height="3.58" fill="#031803"/>
<rect x="98.64" y="469.04" width="3.65" height="3.58" fill="#031803"/>
<rect x="142.39" y="469.04" width="3.65" height="3.58" fill="#680a0e"/>
<rect x="146.03" y="469.04" width="3.65" height="3.58" fill="#f41a26"/>
<rect x="156.97" y="469.04" width="3.65" height="3.58" fill="#240203"/>
<rect x="160.62" y="469.04" width="7.29" height="3.58" fill="#031803"/>
<rect x="142.39" y="472.62" width="3.65" height="3.58" fill="#240203"/>
<rect x="146.03" y="472.62" width="3.65" height="3.58" fill="#f41a26"/>
<rect x="87.7" y="476.2" width="3.65" height="3.58" fill="#0d450d"/>
<rect x="102.28" y="476.2" width="3.65" height="3.58" fill="#240203"/>
<rect x="146.03" y="476.2" width="3.65" height="3.58" fill="#f41a26"/>
<rect x="156.97" y="476.2" width="3.65" height="3.58" fill="#240203"/>
<rect x="160.62" y="476.2" width="7.29" height="3.58" fill="#2cb024"/>
<rect x="171.55" y="476.2" width="3.65" height="3.58" fill="#2cb024"/>
<rect x="142.39" y="479.78" width="3.65" height="3.58" fill="#680a0e"/>
<rect x="146.03" y="479.78" width="3.65" height="3.58" fill="#f41a26"/>
<rect x="156.97" y="479.78" width="3.65" height="3.58" fill="#680a0e"/>
<rect x="87.7" y="483.36" width="3.65" height="3.58" fill="#44ea2c"/>
<rect x="91.35" y="483.36" width="3.65" height="3.58" fill="#2cb024"/>
<rect x="116.87" y="483.36" width="3.65" height="3.58" fill="#680a0e"/>
<rect x="124.16" y="483.36" width="3.65" height="3.58" fill="#2cb024"/>
<rect x="127.8" y="483.36" width="3.65" height="3.58" fill="#680a0e"/>
<rect x="146.03" y="483.36" width="3.65" height="3.58" fill="#f41a26"/>
<rect x="153.32" y="483.36" width="3.65" height="3.58" fill="#2cb024"/>
<rect x="156.97" y="483.36" width="3.65" height="3.58" fill="#f41a26"/>
<rect x="160.62" y="483.36" width="7.29" height="3.58" fill="#2cb024"/>
<rect x="167.91" y="483.36" width="3.65" height="3.58" fill="#f41a26"/>
<rect x="171.55" y="483.36" width="3.65" height="3.58" fill="#240203"/>
<rect x="146.03" y="486.94" width="3.65" height="3.58" fill="#f41a26"/>
<rect x="153.32" y="486.94" width="3.65" height="3.58" fill="#0d450d"/>
<rect x="160.62" y="486.94" width="10.94" height="3.58" fill="#0d450d"/>
<rect x="105.93" y="490.52" width="3.65" height="3.58" fill="#0d450d"/>
<rect x="138.74" y="490.52" width="3.65" height="3.58" fill="#0d450d"/>
<rect x="146.03" y="490.52" width="3.65" height="3.58" fill="#f41a26"/>
<rect x="153.32" y="490.52" width="3.65" height="3.58" fill="#0d450d"/>
<rect x="164.26" y="490.52" width="3.65" height="3.58" fill="#2cb024"/>
<rect x="87.7" y="494.1" width="7.29" height="3.58" fill="#f41a26"/>
<rect x="98.64" y="494.1" width="14.58" height="3.58" fill="#f41a26"/>
<rect x="113.22" y="494.1" width="10.94" height="3.58" fill="#2cb024"/>
<rect x="124.16" y="494.1" width="3.65" height="3.58" fill="#0d450d"/>
<rect x="127.8" y="494.1" width="3.65" height="3.58" fill="#2cb024"/>
<rect x="135.1" y="494.1" width="7.29" height="3.58" fill="#2cb024"/>
<rect x="146.03" y="494.1" width="3.65" height="3.58" fill="#f41a26"/>
<rect x="149.68" y="494.1" width="21.87" height="3.58" fill="#2cb024"/>
<rect x="146.03" y="497.68" width="3.65" height="3.58" fill="#f41a26"/>
<rect x="171.55" y="497.68" width="3.65" height="3.58" fill="#680a0e"/>
<rect x="87.7" y="501.26" width="3.65" height="3.58" fill="#f41a26"/>
<rect x="102.28" y="501.26" width="3.65" height="3.58" fill="#680a0e"/>
<rect x="109.58" y="501.26" width="3.65" height="3.58" fill="#f41a26"/>
<rect x="116.87" y="501.26" width="7.29" height="3.58" fill="#2cb024"/>
<rect x="131.45" y="501.26" width="3.65" height="3.58" fill="#2cb024"/>
<rect x="138.74" y="501.26" width="3.65" height="3.58" fill="#2cb024"/>
<rect x="142.39" y="501.26" width="7.29" height="3.58" fill="#f41a26"/>
<rect x="153.32" y="501.26" width="3.65" height="3.58" fill="#2cb024"/>
<rect x="160.62" y="501.26" width="7.29" height="3.58" fill="#44ea2c"/>
<rect x="102.28" y="504.84" width="7.29" height="3.58" fill="#f41a26"/>
<rect x="109.58" y="504.84" width="3.65" height="3.58" fill="#680a0e"/>
<rect x="113.22" y="504.84" width="10.94" height="3.58" fill="#2cb024"/>
<rect x="127.8" y="504.84" width="3.65" height="3.58" fill="#2cb024"/>
<rect x="135.1" y="504.84" width="3.65" height="3.58" fill="#2cb024"/>
<rect x="142.39" y="504.84" width="3.65" height="3.58" fill="#2cb024"/>
<rect x="146.03" y="504.84" width="3.65" height="3.58" fill="#f41a26"/>
<rect x="153.32" y="504.84" width="3.65" height="3.58" fill="#2cb024"/>
<rect x="164.26" y="504.84" width="7.29" height="3.58" fill="#44ea2c"/>
<rect x="87.7" y="508.42" width="3.65" height="3.58" fill="#f41a26"/>
<rect x="102.28" y="508.42" width="7.29" height="3.58" fill="#f41a26"/>
<rect x="109.58" y="508.42" width="3.65" height="3.58" fill="#2cb024"/>
<rect x="113.22" y="508.42" width="14.58" height="3.58" fill="#44ea2c"/>
<rect x="127.8" y="508.42" width="14.58" height="3.58" fill="#2cb024"/>
<rect x="146.03" y="508.42" width="3.65" height="3.58" fill="#f41a26"/>
<rect x="153.32" y="508.42" width="3.65" height="3.58" fill="#2cb024"/>
<rect x="160.62" y="508.42" width="14.58" height="3.58" fill="#44ea2c"/>
<rect x="87.7" y="512" width="3.65" height="3.58" fill="#680a0e"/>
<rect x="98.64" y="512" width="10.94" height="3.58" fill="#f41a26"/>
<rect x="109.58" y="512" width="14.58" height="3.58" fill="#44ea2c"/>
<rect x="127.8" y="512" width="7.29" height="3.58" fill="#2cb024"/>
<rect x="138.74" y="512" width="3.65" height="3.58" fill="#2cb024"/>
<rect x="146.03" y="512" width="3.65" height="3.58" fill="#f41a26"/>
<rect x="153.32" y="512" width="3.65" height="3.58" fill="#2cb024"/>
<rect x="160.62" y="512" width="14.58" height="3.58" fill="#44ea2c"/>
<rect x="146.03" y="515.58" width="3.65" height="3.58" fill="#f41a26"/>
<rect x="146.03" y="519.16" width="3.65" height="3.58" fill="#f41a26"/>
<rect x="167.91" y="519.16" width="3.65" height="3.58" fill="#f41a26"/>
<rect x="146.03" y="522.74" width="3.65" height="3.58" fill="#f41a26"/>
<rect x="146.03" y="526.32" width="3.65" height="3.58" fill="#f41a26"/>
<rect x="167.91" y="526.32" width="3.65" height="3.58" fill="#f41a26"/>
<rect x="138.74" y="529.9" width="3.65" height="3.58" fill="#680a0e"/>
<rect x="146.03" y="529.9" width="3.65" height="3.58" fill="#f41a26"/>
<rect x="142.39" y="533.48" width="10.94" height="3.58" fill="#f41a26"/>
<rect x="167.91" y="533.48" width="3.65" height="3.58" fill="#f41a26"/>
<rect x="87.7" y="537.06" width="3.65" height="3.58" fill="#0d450d"/>
<rect x="102.28" y="537.06" width="3.65" height="3.58" fill="#0d450d"/>
<rect x="116.87" y="537.06" width="3.65" height="3.58" fill="#f41a26"/>
<rect x="142.39" y="537.06" width="10.94" height="3.58" fill="#f41a26"/>
<rect x="171.55" y="537.06" width="3.65" height="3.58" fill="#680a0e"/>
<rect x="142.39" y="540.64" width="7.29" height="3.58" fill="#f41a26"/>
<rect x="171.55" y="540.64" width="3.65" height="3.58" fill="#f41a26"/>
<rect x="94.99" y="544.22" width="3.65" height="3.58" fill="#680a0e"/>
<rect x="102.28" y="544.22" width="3.65" height="3.58" fill="#0d450d"/>
<rect x="127.8" y="544.22" width="7.29" height="3.58" fill="#680a0e"/>
<rect x="146.03" y="544.22" width="3.65" height="3.58" fill="#f41a26"/>
<rect x="160.62" y="544.22" width="7.29" height="3.58" fill="#2cb024"/>
<rect x="146.03" y="547.8" width="3.65" height="3.58" fill="#f41a26"/>
<rect x="87.7" y="551.38" width="3.65" height="3.58" fill="#2cb024"/>
<rect x="94.99" y="551.38" width="7.29" height="3.58" fill="#2cb024"/>
<rect x="102.28" y="551.38" width="7.29" height="3.58" fill="#f41a26"/>
<rect x="109.58" y="551.38" width="3.65" height="3.58" fill="#680a0e"/>
<rect x="113.22" y="551.38" width="3.65" height="3.58" fill="#2cb024"/>
<rect x="124.16" y="551.38" width="3.65" height="3.58" fill="#2cb024"/>
<rect x="127.8" y="551.38" width="3.65" height="3.58" fill="#f41a26"/>
<rect x="131.45" y="551.38" width="7.29" height="3.58" fill="#2cb024"/>
<rect x="142.39" y="551.38" width="10.94" height="3.58" fill="#f41a26"/>
<rect x="153.32" y="551.38" width="3.65" height="3.58" fill="#2cb024"/>
<rect x="160.62" y="551.38" width="10.94" height="3.58" fill="#44ea2c"/>
<rect x="171.55" y="551.38" width="3.65" height="3.58" fill="#f41a26"/>
<rect x="87.7" y="554.96" width="10.94" height="3.58" fill="#2cb024"/>
<rect x="98.64" y="554.96" width="10.94" height="3.58" fill="#f41a26"/>
<rect x="113.22" y="554.96" width="3.65" height="3.58" fill="#2cb024"/>
<rect x="120.51" y="554.96" width="3.65" height="3.58" fill="#f41a26"/>
<rect x="127.8" y="554.96" width="7.29" height="3.58" fill="#f41a26"/>
<rect x="146.03" y="554.96" width="3.65" height="3.58" fill="#f41a26"/>
<rect x="160.62" y="554.96" width="14.58" height="3.58" fill="#2cb024"/>
<rect x="146.03" y="558.54" width="3.65" height="3.58" fill="#f41a26"/>
<rect x="146.03" y="562.12" width="3.65" height="3.58" fill="#f41a26"/>
<rect x="142.39" y="565.7" width="7.29" height="3.58" fill="#f41a26"/>
<rect x="142.39" y="569.28" width="7.29" height="3.58" fill="#f41a26"/>
<rect x="102.28" y="572.86" width="3.65" height="3.58" fill="#f41a26"/>
<rect x="127.8" y="572.86" width="3.65" height="3.58" fill="#680a0e"/>
<rect x="135.1" y="572.86" width="3.65" height="3.58" fill="#2cb024"/>
<rect x="142.39" y="572.86" width="7.29" height="3.58" fill="#f41a26"/>
<rect x="156.97" y="572.86" width="3.65" height="3.58" fill="#f41a26"/>
<rect x="160.62" y="572.86" width="10.94" height="3.58" fill="#2cb024"/>
<rect x="102.28" y="576.44" width="3.65" height="3.58" fill="#680a0e"/>
<rect x="142.39" y="576.44" width="7.29" height="3.58" fill="#f41a26"/>
<rect x="160.62" y="576.44" width="10.94" height="3.58" fill="#0d450d"/>
<rect x="87.7" y="580.02" width="3.65" height="3.58" fill="#680a0e"/>
<rect x="102.28" y="580.02" width="3.65" height="3.58" fill="#680a0e"/>
<rect x="109.58" y="580.02" width="18.23" height="3.58" fill="#44ea2c"/>
<rect x="127.8" y="580.02" width="3.65" height="3.58" fill="#f41a26"/>
<rect x="135.1" y="580.02" width="3.65" height="3.58" fill="#2cb024"/>
<rect x="138.74" y="580.02" width="10.94" height="3.58" fill="#f41a26"/>
<rect x="160.62" y="580.02" width="10.94" height="3.58" fill="#44ea2c"/>
<rect x="102.28" y="583.6" width="3.65" height="3.58" fill="#680a0e"/>
<rect x="116.87" y="583.6" width="7.29" height="3.58" fill="#2cb024"/>
<rect x="142.39" y="583.6" width="7.29" height="3.58" fill="#f41a26"/>
<rect x="160.62" y="583.6" width="10.94" height="3.58" fill="#2cb024"/>
<rect x="102.28" y="587.18" width="3.65" height="3.58" fill="#680a0e"/>
<rect x="116.87" y="587.18" width="7.29" height="3.58" fill="#0d450d"/>
<rect x="142.39" y="587.18" width="7.29" height="3.58" fill="#f41a26"/>
<rect x="160.62" y="587.18" width="10.94" height="3.58" fill="#2cb024"/>
<rect x="146.03" y="590.76" width="3.65" height="3.58" fill="#f41a26"/>
<rect x="146.03" y="594.34" width="3.65" height="3.58" fill="#f41a26"/>
<rect x="91.35" y="597.92" width="7.29" height="3.58" fill="#2cb024"/>
<rect x="105.93" y="597.92" width="3.65" height="3.58" fill="#f41a26"/>
<rect x="127.8" y="597.92" width="3.65" height="3.58" fill="#680a0e"/>
<rect x="142.39" y="597.92" width="10.94" height="3.58" fill="#f41a26"/>
<rect x="164.26" y="597.92" width="7.29" height="3.58" fill="#2cb024"/>
<rect x="102.28" y="601.5" width="3.65" height="3.58" fill="#680a0e"/>
<rect x="116.87" y="601.5" width="3.65" height="3.58" fill="#0d450d"/>
<rect x="146.03" y="601.5" width="3.65" height="3.58" fill="#f41a26"/>
<rect x="160.62" y="601.5" width="10.94" height="3.58" fill="#0d450d"/>
<rect x="171.55" y="601.5" width="3.65" height="3.58" fill="#f41a26"/>
<rect x="167.91" y="605.08" width="3.65" height="3.58" fill="#680a0e"/>
<rect x="167.91" y="608.66" width="3.65" height="3.58" fill="#c8161e"/>
<rect x="167.91" y="612.24" width="3.65" height="3.58" fill="#c8161e"/>
<rect x="167.91" y="615.82" width="3.65" height="3.58" fill="#c8161e"/>
<rect x="167.91" y="619.4" width="3.65" height="3.58" fill="#c8161e"/>
<rect x="167.91" y="622.98" width="3.65" height="3.58" fill="#c8161e"/>
<rect x="167.91" y="626.56" width="3.65" height="3.58" fill="#c8161e"/>
<rect x="171.55" y="630.14" width="3.65" height="3.58" fill="#f41a26"/>
<rect x="171.55" y="633.72" width="3.65" height="3.58" fill="#f41a26"/>
<rect x="171.55" y="637.3" width="3.65" height="3.58" fill="#f41a26"/>
</g>
<rect x="88.1" y="254.24" width="86.7" height="21.48" fill="none" stroke="#f8e058" stroke-width="1.15"/>
<rect x="88.1" y="307.94" width="86.7" height="60.86" fill="none" stroke="#f8e058" stroke-width="1.15"/>
<rect x="88.1" y="418.92" width="86.7" height="68.02" fill="none" stroke="#f8e058" stroke-width="1.15"/>
<g stroke="#000" stroke-width="0.15">
<text transform="translate(90.57,24.6) rotate(-90)" font-size="3">Thrombin 0h</text>
<text transform="translate(94.22,24.6) rotate(-90)" font-size="3">Thrombin 2h</text>
<text transform="translate(97.86,24.6) rotate(-90)" font-size="3">Thrombin 6h</text>
<text transform="translate(101.51,24.6) rotate(-90)" font-size="3">Thrombin 24h</text>
<text transform="translate(105.16,24.6) rotate(-90)" font-size="3">TGF-<tspan font-weight="normal">β</tspan> 0h</text>
<text transform="translate(108.8,24.6) rotate(-90)" font-size="3">TGF-<tspan font-weight="normal">β</tspan> 2h</text>
<text transform="translate(112.45,24.6) rotate(-90)" font-size="3">TGF-<tspan font-weight="normal">β</tspan> 6h</text>
<text transform="translate(116.09,24.6) rotate(-90)" font-size="3">TGF-<tspan font-weight="normal">β</tspan> 24h</text>
<text transform="translate(119.74,24.6) rotate(-90)" font-size="3">VEGF 2h</text>
<text transform="translate(123.39,24.6) rotate(-90)" font-size="3">VEGF 6h</text>
<text transform="translate(127.03,24.6) rotate(-90)" font-size="3">IL-1<tspan font-weight="normal">β</tspan> 0h</text>
<text transform="translate(130.68,24.6) rotate(-90)" font-size="3">IL-1<tspan font-weight="normal">β</tspan> 2h</text>
<text transform="translate(134.32,24.6) rotate(-90)" font-size="3">IL-1<tspan font-weight="normal">β</tspan> 6h</text>
<text transform="translate(137.97,24.6) rotate(-90)" font-size="3">IL-1<tspan font-weight="normal">β</tspan> 24h</text>
<text transform="translate(141.61,24.6) rotate(-90)" font-size="3">TNF-<tspan font-weight="normal">α</tspan> 0h</text>
<text transform="translate(145.26,24.6) rotate(-90)" font-size="3">TNF-<tspan font-weight="normal">α</tspan> 2h</text>
<text transform="translate(148.91,24.6) rotate(-90)" font-size="3">TNF-<tspan font-weight="normal">α</tspan> 6h</text>
<text transform="translate(152.55,24.6) rotate(-90)" font-size="3">TNF-<tspan font-weight="normal">α</tspan> 24h</text>
<text transform="translate(156.2,24.6) rotate(-90)" font-size="3">Static</text>
<text transform="translate(159.84,24.6) rotate(-90)" font-size="3">Shear 7days</text>
<text transform="translate(163.49,24.6) rotate(-90)" font-size="3">HeLa</text>
<text transform="translate(167.14,24.6) rotate(-90)" font-size="3">RF24</text>
<text transform="translate(170.78,24.6) rotate(-90)" font-size="3">HL60</text>
<text transform="translate(174.43,24.6) rotate(-90)" font-size="3">SMC</text>
<rect x="88.1" y="25.4" width="13.78" height="1" fill="#000"/>
<rect x="102.68" y="25.4" width="13.78" height="1" fill="#000"/>
<rect x="117.27" y="25.4" width="6.49" height="1" fill="#000"/>
<rect x="124.56" y="25.4" width="13.78" height="1" fill="#000"/>
<rect x="139.14" y="25.4" width="13.78" height="1" fill="#000"/>
<rect x="153.72" y="25.4" width="2.85" height="1" fill="#000"/>
<rect x="157.37" y="25.4" width="2.85" height="1" fill="#000"/>
<rect x="161.02" y="25.4" width="2.85" height="1" fill="#000"/>
<rect x="164.66" y="25.4" width="2.85" height="1" fill="#000"/>
<rect x="168.31" y="25.4" width="2.85" height="1" fill="#000"/>
<rect x="171.95" y="25.4" width="2.85" height="1" fill="#000"/>
</g>
<g font-size="3.5" stroke="#000" stroke-width="0.2"><text x="177.6" y="31.74" transform="rotate(0.4 177.6 31.74)">PTGS2</text>
<text x="177.6" y="35.32" transform="rotate(0.4 177.6 35.32)">PRCCB</text>
<text x="177.6" y="38.9" transform="rotate(0.4 177.6 38.9)">PHF2</text>
<text x="177.6" y="42.48" transform="rotate(0.4 177.6 42.48)">GSPT1</text>
<text x="177.6" y="46.06" transform="rotate(0.4 177.6 46.06)">DSPG3</text>
<text x="177.6" y="49.64" transform="rotate(0.4 177.6 49.64)">CAV1</text>
<text x="177.6" y="53.22" transform="rotate(0.4 177.6 53.22)">DD:GGT_1</text>
<text x="177.6" y="56.8" transform="rotate(0.4 177.6 56.8)">APOE 6B7</text>
<text x="177.6" y="60.38" transform="rotate(0.4 177.6 60.38)">GB:AB008190</text>
<text x="177.6" y="63.96" transform="rotate(0.4 177.6 63.96)">GB:AA10_2</text>
<text x="177.6" y="67.54" transform="rotate(0.4 177.6 67.54)">GB:CT8_7</text>
<text x="177.6" y="71.12" transform="rotate(0.4 177.6 71.12)">KPFP47</text>
<text x="177.6" y="74.7" transform="rotate(0.4 177.6 74.7)">GB:X82126</text>
<text x="177.6" y="78.28" transform="rotate(0.4 177.6 78.28)">REPS47</text>
<text x="177.6" y="81.86" transform="rotate(0.4 177.6 81.86)">SUPT5H1</text>
<text x="177.6" y="85.44" transform="rotate(0.4 177.6 85.44)">MYO1</text>
<text x="177.6" y="89.02" transform="rotate(0.4 177.6 89.02)">GB:BC004829</text>
<text x="177.6" y="92.6" transform="rotate(0.4 177.6 92.6)">GB:AC004876</text>
<text x="177.6" y="96.18" transform="rotate(0.4 177.6 96.18)">FF</text>
<text x="177.6" y="99.76" transform="rotate(0.4 177.6 99.76)">MYL8</text>
<text x="177.6" y="103.34" transform="rotate(0.4 177.6 103.34)">MMRN</text>
<text x="177.6" y="106.92" transform="rotate(0.4 177.6 106.92)">APOL</text>
<text x="177.6" y="110.5" transform="rotate(0.4 177.6 110.5)">GB:N47844</text>
<text x="177.6" y="114.08" transform="rotate(0.4 177.6 114.08)">APOL2</text>
<text x="177.6" y="117.66" transform="rotate(0.4 177.6 117.66)">PCDH6</text>
<text x="177.6" y="121.24" transform="rotate(0.4 177.6 121.24)">NOS3</text>
<text x="177.6" y="124.82" transform="rotate(0.4 177.6 124.82)">RGS5</text>
<text x="177.6" y="128.4" transform="rotate(0.4 177.6 128.4)" style="fill:#3a60d4;stroke:none">GA7</text>
<text x="177.6" y="131.98" transform="rotate(0.4 177.6 131.98)">WBP4</text>
<text x="177.6" y="135.56" transform="rotate(0.4 177.6 135.56)">REPS47</text>
<text x="177.6" y="139.14" transform="rotate(0.4 177.6 139.14)">GB:AF109614</text>
<text x="177.6" y="142.72" transform="rotate(0.4 177.6 142.72)">GB:L10374</text>
<text x="177.6" y="146.3" transform="rotate(0.4 177.6 146.3)">GB:AL137566</text>
<text x="177.6" y="149.88" transform="rotate(0.4 177.6 149.88)">DD:GGT_1</text>
<text x="177.6" y="153.46" transform="rotate(0.4 177.6 153.46)">NRCAM</text>
<text x="177.6" y="157.04" transform="rotate(0.4 177.6 157.04)">GBP2</text>
<text x="177.6" y="160.62" transform="rotate(0.4 177.6 160.62)">SCYA2</text>
<text x="177.6" y="164.2" transform="rotate(0.4 177.6 164.2)">CSF2</text>
<text x="177.6" y="167.78" transform="rotate(0.4 177.6 167.78)">REPS47</text>
<text x="177.6" y="171.36" transform="rotate(0.4 177.6 171.36)">PIM1</text>
<text x="177.6" y="174.94" transform="rotate(0.4 177.6 174.94)">VEGF</text>
<text x="177.6" y="178.52" transform="rotate(0.4 177.6 178.52)">TCF1</text>
<text x="177.6" y="182.1" transform="rotate(0.4 177.6 182.1)">DD:AA2_2</text>
<text x="177.6" y="185.68" transform="rotate(0.4 177.6 185.68)">CPB2</text>
<text x="177.6" y="189.26" transform="rotate(0.4 177.6 189.26)">RPS11</text>
<text x="177.6" y="192.84" transform="rotate(0.4 177.6 192.84)">HCGR3</text>
<text x="177.6" y="196.42" transform="rotate(0.4 177.6 196.42)">RPL26</text>
<text x="177.6" y="200" transform="rotate(0.4 177.6 200)" style="fill:#3a60d4;stroke:none">CDKN1A</text>
<text x="177.6" y="203.58" transform="rotate(0.4 177.6 203.58)" style="fill:#3a60d4;stroke:none">SLC7A11</text>
<text x="177.6" y="207.16" transform="rotate(0.4 177.6 207.16)">CSF2</text>
<text x="177.6" y="210.74" transform="rotate(0.4 177.6 210.74)">NFLF</text>
<text x="177.6" y="214.32" transform="rotate(0.4 177.6 214.32)">GB:N78061</text>
<text x="177.6" y="217.9" transform="rotate(0.4 177.6 217.9)">INHBA</text>
<text x="177.6" y="221.48" transform="rotate(0.4 177.6 221.48)">ANXA2</text>
<text x="177.6" y="225.06" transform="rotate(0.4 177.6 225.06)">TUBA2</text>
<text x="177.6" y="228.64" transform="rotate(0.4 177.6 228.64)">F2R</text>
<text x="177.6" y="232.22" transform="rotate(0.4 177.6 232.22)">CHRD</text>
<text x="177.6" y="235.8" transform="rotate(0.4 177.6 235.8)">VWF</text>
<text x="177.6" y="239.38" transform="rotate(0.4 177.6 239.38)">VCL</text>
<text x="177.6" y="242.96" transform="rotate(0.4 177.6 242.96)">PHDVS</text>
<text x="177.6" y="246.54" transform="rotate(0.4 177.6 246.54)">TNR2</text>
<text x="177.6" y="250.12" transform="rotate(0.4 177.6 250.12)">BMLP</text>
<text x="177.6" y="253.7" transform="rotate(0.4 177.6 253.7)">FN1</text>
<text x="177.6" y="257.28" transform="rotate(0.4 177.6 257.28)" style="fill:#3a60d4;stroke:none">DIA4</text>
<text x="177.6" y="260.86" transform="rotate(0.4 177.6 260.86)">GDN</text>
<text x="177.6" y="264.44" transform="rotate(0.4 177.6 264.44)" style="fill:#3a60d4;stroke:none">CYP1B1</text>
<text x="177.6" y="268.02" transform="rotate(0.4 177.6 268.02)">KLF8</text>
<text x="177.6" y="271.6" transform="rotate(0.4 177.6 271.6)">ABCA1</text>
<text x="177.6" y="275.18" transform="rotate(0.4 177.6 275.18)" style="fill:#3a60d4;stroke:none">KLF2</text>
<text x="177.6" y="278.76" transform="rotate(0.4 177.6 278.76)" style="fill:#3a60d4;stroke:none">FTL</text>
<text x="177.6" y="282.34" transform="rotate(0.4 177.6 282.34)">GCAT</text>
<text x="177.6" y="285.92" transform="rotate(0.4 177.6 285.92)">GB:AI267828</text>
<text x="177.6" y="289.5" transform="rotate(0.4 177.6 289.5)">IL6</text>
<text x="177.6" y="293.08" transform="rotate(0.4 177.6 293.08)">SCYA2</text>
<text x="177.6" y="296.66" transform="rotate(0.4 177.6 296.66)">GB:AL137326</text>
<text x="177.6" y="300.24" transform="rotate(0.4 177.6 300.24)">CNN1</text>
<text x="177.6" y="303.82" transform="rotate(0.4 177.6 303.82)">ACTB</text>
<text x="177.6" y="307.4" transform="rotate(0.4 177.6 307.4)">DD:COX2_1</text>
<text x="177.6" y="310.98" transform="rotate(0.4 177.6 310.98)">FTH1</text>
<text x="177.6" y="314.56" transform="rotate(0.4 177.6 314.56)">PECAM1</text>
<text x="177.6" y="318.14" transform="rotate(0.4 177.6 318.14)">OLR1</text>
<text x="177.6" y="321.72" transform="rotate(0.4 177.6 321.72)">GB:AI632668</text>
<text x="177.6" y="325.3" transform="rotate(0.4 177.6 325.3)">VCAM1</text>
<text x="177.6" y="328.88" transform="rotate(0.4 177.6 328.88)">ICAM1</text>
<text x="177.6" y="332.46" transform="rotate(0.4 177.6 332.46)">PLAUR</text>
<text x="177.6" y="336.04" transform="rotate(0.4 177.6 336.04)">ICAM1</text>
<text x="177.6" y="339.62" transform="rotate(0.4 177.6 339.62)">PLAU</text>
<text x="177.6" y="343.2" transform="rotate(0.4 177.6 343.2)">SERPINE1</text>
<text x="177.6" y="346.78" transform="rotate(0.4 177.6 346.78)">F3</text>
<text x="177.6" y="350.36" transform="rotate(0.4 177.6 350.36)">DD:AG7_1</text>
<text x="177.6" y="353.94" transform="rotate(0.4 177.6 353.94)">SOD2</text>
<text x="177.6" y="357.52" transform="rotate(0.4 177.6 357.52)">SCYA2</text>
<text x="177.6" y="361.1" transform="rotate(0.4 177.6 361.1)">SOD2</text>
<text x="177.6" y="364.68" transform="rotate(0.4 177.6 364.68)">IL8</text>
<text x="177.6" y="368.26" transform="rotate(0.4 177.6 368.26)">ANXA5</text>
<text x="177.6" y="371.84" transform="rotate(0.4 177.6 371.84)">DD:GCH_4_2</text>
<text x="177.6" y="375.42" transform="rotate(0.4 177.6 375.42)">GB:KIAA0461</text>
<text x="177.6" y="379" transform="rotate(0.4 177.6 379)">SPRY4</text>
<text x="177.6" y="382.58" transform="rotate(0.4 177.6 382.58)">EGN</text>
<text x="177.6" y="386.16" transform="rotate(0.4 177.6 386.16)" style="fill:#3a60d4;stroke:none">ATF3</text>
<text x="177.6" y="389.74" transform="rotate(0.4 177.6 389.74)" style="fill:#3a60d4;stroke:none">TXNRD1</text>
<text x="177.6" y="393.32" transform="rotate(0.4 177.6 393.32)">MGP</text>
<text x="177.6" y="396.9" transform="rotate(0.4 177.6 396.9)">TIMP1</text>
<text x="177.6" y="400.48" transform="rotate(0.4 177.6 400.48)">RASSF2</text>
<text x="177.6" y="404.06" transform="rotate(0.4 177.6 404.06)">PDGFB</text>
<text x="177.6" y="407.64" transform="rotate(0.4 177.6 407.64)">VTN</text>
<text x="177.6" y="411.22" transform="rotate(0.4 177.6 411.22)">CCND1</text>
<text x="177.6" y="414.8" transform="rotate(0.4 177.6 414.8)">SERPINA5</text>
<text x="177.6" y="418.38" transform="rotate(0.4 177.6 418.38)">DD:CT8_1</text>
<text x="177.6" y="421.96" transform="rotate(0.4 177.6 421.96)">GB:R96525</text>
<text x="177.6" y="425.54" transform="rotate(0.4 177.6 425.54)" style="fill:#3a60d4;stroke:none">CLDN5</text>
<text x="177.6" y="429.12" transform="rotate(0.4 177.6 429.12)">IGKC</text>
<text x="177.6" y="432.7" transform="rotate(0.4 177.6 432.7)">C5orf7</text>
<text x="177.6" y="436.28" transform="rotate(0.4 177.6 436.28)">GB:AI140281</text>
<text x="177.6" y="439.86" transform="rotate(0.4 177.6 439.86)" style="fill:#3a60d4;stroke:none">TXNRD1</text>
<text x="177.6" y="443.44" transform="rotate(0.4 177.6 443.44)">PFDN2</text>
<text x="177.6" y="447.02" transform="rotate(0.4 177.6 447.02)">SDF2</text>
<text x="177.6" y="450.6" transform="rotate(0.4 177.6 450.6)">GB:KIAA0737</text>
<text x="177.6" y="454.18" transform="rotate(0.4 177.6 454.18)">GB:AA166719</text>
<text x="177.6" y="457.76" transform="rotate(0.4 177.6 457.76)">EGR1</text>
<text x="177.6" y="461.34" transform="rotate(0.4 177.6 461.34)">KLF5</text>
<text x="177.6" y="464.92" transform="rotate(0.4 177.6 464.92)">LGALS8</text>
<text x="177.6" y="468.5" transform="rotate(0.4 177.6 468.5)">APP</text>
<text x="177.6" y="472.08" transform="rotate(0.4 177.6 472.08)">THBD</text>
<text x="177.6" y="475.66" transform="rotate(0.4 177.6 475.66)">APOL3</text>
<text x="177.6" y="479.24" transform="rotate(0.4 177.6 479.24)">ACP5</text>
<text x="177.6" y="482.82" transform="rotate(0.4 177.6 482.82)">CKN1</text>
<text x="177.6" y="486.4" transform="rotate(0.4 177.6 486.4)" style="fill:#3a60d4;stroke:none">GB:T80319</text>
<text x="177.6" y="489.98" transform="rotate(0.4 177.6 489.98)">REPS47</text>
<text x="177.6" y="493.56" transform="rotate(0.4 177.6 493.56)">SPRY4</text>
<text x="177.6" y="497.14" transform="rotate(0.4 177.6 497.14)">DD:AT7_3</text>
<text x="177.6" y="500.72" transform="rotate(0.4 177.6 500.72)">DD:GC2_2</text>
<text x="177.6" y="504.3" transform="rotate(0.4 177.6 504.3)">GB:AC007004</text>
<text x="177.6" y="507.88" transform="rotate(0.4 177.6 507.88)">SPG1</text>
<text x="177.6" y="511.46" transform="rotate(0.4 177.6 511.46)">REPS47</text>
<text x="177.6" y="515.04" transform="rotate(0.4 177.6 515.04)">FLJ20614</text>
<text x="177.6" y="518.62" transform="rotate(0.4 177.6 518.62)">REPS47</text>
<text x="177.6" y="522.2" transform="rotate(0.4 177.6 522.2)">GB:KIAA0737</text>
<text x="177.6" y="525.78" transform="rotate(0.4 177.6 525.78)">DD:AG8_4</text>
<text x="177.6" y="529.36" transform="rotate(0.4 177.6 529.36)">FBL</text>
<text x="177.6" y="532.94" transform="rotate(0.4 177.6 532.94)">GB:M10097</text>
<text x="177.6" y="536.52" transform="rotate(0.4 177.6 536.52)">BIRC3</text>
<text x="177.6" y="540.1" transform="rotate(0.4 177.6 540.1)">TFPI</text>
<text x="177.6" y="543.68" transform="rotate(0.4 177.6 543.68)">NPP1</text>
<text x="177.6" y="547.26" transform="rotate(0.4 177.6 547.26)">F2R</text>
<text x="177.6" y="550.84" transform="rotate(0.4 177.6 550.84)">AKAP12</text>
<text x="177.6" y="554.42" transform="rotate(0.4 177.6 554.42)">SCYA2</text>
<text x="177.6" y="558" transform="rotate(0.4 177.6 558)">EEF1A2</text>
<text x="177.6" y="561.58" transform="rotate(0.4 177.6 561.58)">TCRN_1</text>
<text x="177.6" y="565.16" transform="rotate(0.4 177.6 565.16)">GB:AI361583</text>
<text x="177.6" y="568.74" transform="rotate(0.4 177.6 568.74)">DD:AC11_3</text>
<text x="177.6" y="572.32" transform="rotate(0.4 177.6 572.32)">GB:AA086825</text>
<text x="177.6" y="575.9" transform="rotate(0.4 177.6 575.9)">REPS47</text>
<text x="177.6" y="579.48" transform="rotate(0.4 177.6 579.48)">DD:CG6_1</text>
<text x="177.6" y="583.06" transform="rotate(0.4 177.6 583.06)">REPS47</text>
<text x="177.6" y="586.64" transform="rotate(0.4 177.6 586.64)">DD:CT8_1</text>
<text x="177.6" y="590.22" transform="rotate(0.4 177.6 590.22)">AGN</text>
<text x="177.6" y="593.8" transform="rotate(0.4 177.6 593.8)">DD:AA10_2</text>
<text x="177.6" y="597.38" transform="rotate(0.4 177.6 597.38)">TNFA-P2</text>
<text x="177.6" y="600.96" transform="rotate(0.4 177.6 600.96)">GB:M11167</text>
<text x="177.6" y="604.54" transform="rotate(0.4 177.6 604.54)">DD:GT10_1</text>
<text x="177.6" y="608.12" transform="rotate(0.4 177.6 608.12)">RY-1</text>
<text x="177.6" y="611.7" transform="rotate(0.4 177.6 611.7)">FLJ10120</text>
<text x="177.6" y="615.28" transform="rotate(0.4 177.6 615.28)">PLTA</text>
<text x="177.6" y="618.86" transform="rotate(0.4 177.6 618.86)">GB:W47146</text>
<text x="177.6" y="622.44" transform="rotate(0.4 177.6 622.44)">CCE-1</text>
<text x="177.6" y="626.02" transform="rotate(0.4 177.6 626.02)">FLJ10074</text>
<text x="177.6" y="629.6" transform="rotate(0.4 177.6 629.6)">KLDKW</text>
<text x="177.6" y="633.18" transform="rotate(0.4 177.6 633.18)">KTNM</text>
<text x="177.6" y="636.76" transform="rotate(0.4 177.6 636.76)">RUNX2</text>
<text x="177.6" y="640.34" transform="rotate(0.4 177.6 640.34)">TNXLN</text>
<text x="177.6" y="643.92" transform="rotate(0.4 177.6 643.92)">GM/PL</text></g>
<path d="M192.5 254.4L192.5 275.5 M200.7 308.5L200.7 368.4 M202.8 419.3L202.8 486.5" fill="none" stroke="#000" stroke-width="1" stroke-linecap="square"/>
<text x="197" y="268.4" font-size="9.8" stroke="#000" stroke-width="0.35">B</text>
<text x="205.3" y="342" font-size="9.8" stroke="#000" stroke-width="0.35">C</text>
<text x="207.2" y="456.4" font-size="9.8" stroke="#000" stroke-width="0.35">D</text>
<path d="M76.3 30.49L87.3 30.49 M76.3 34.07L87.3 34.07 M76.3 30.49L76.3 34.07 M58.6 32.28L76.3 32.28 M81.72 37.65L87.3 37.65 M81.72 41.23L87.3 41.23 M81.72 37.65L81.72 41.23 M77.1 39.44L81.72 39.44 M77.1 44.81L87.3 44.81 M77.1 39.44L77.1 44.81 M58.6 42.12L77.1 42.12 M58.6 32.28L58.6 42.12 M41.2 37.2L58.6 37.2 M70.2 48.39L87.3 48.39 M70.2 51.97L87.3 51.97 M70.2 48.39L70.2 51.97 M41.2 50.18L70.2 50.18 M41.2 37.2L41.2 50.18 M26.9 43.69L41.2 43.69 M83.47 55.55L87.3 55.55 M85.2 59.13L87.3 59.13 M85.2 62.71L87.3 62.71 M85.2 59.13L85.2 62.71 M85.06 60.92L85.2 60.92 M85.06 66.29L87.3 66.29 M85.06 60.92L85.06 66.29 M83.47 63.61L85.06 63.61 M83.47 55.55L83.47 63.61 M81.8 59.58L83.47 59.58 M83.47 69.87L87.3 69.87 M85.2 73.45L87.3 73.45 M85.2 77.03L87.3 77.03 M85.2 73.45L85.2 77.03 M85.06 75.24L85.2 75.24 M85.06 80.61L87.3 80.61 M85.06 75.24L85.06 80.61 M83.47 77.93L85.06 77.93 M83.47 69.87L83.47 77.93 M81.8 73.9L83.47 73.9 M81.8 59.58L81.8 73.9 M71.4 66.74L81.8 66.74 M82.26 84.19L87.3 84.19 M82.26 87.77L87.3 87.77 M82.26 84.19L82.26 87.77 M78.3 85.98L82.26 85.98 M82.26 91.35L87.3 91.35 M82.26 94.93L87.3 94.93 M82.26 91.35L82.26 94.93 M78.3 93.14L82.26 93.14 M78.3 85.98L78.3 93.14 M71.4 89.56L78.3 89.56 M71.4 66.74L71.4 89.56 M56.8 78.15L71.4 78.15 M83.12 98.51L87.3 98.51 M83.12 102.09L87.3 102.09 M83.12 98.51L83.12 102.09 M80.22 100.3L83.12 100.3 M83.12 105.67L87.3 105.67 M83.12 109.25L87.3 109.25 M83.12 105.67L83.12 109.25 M80.22 107.46L83.12 107.46 M80.22 100.3L80.22 107.46 M75.9 103.88L80.22 103.88 M80.22 112.83L87.3 112.83 M83.12 116.41L87.3 116.41 M83.12 119.99L87.3 119.99 M83.12 116.41L83.12 119.99 M80.22 118.2L83.12 118.2 M80.22 112.83L80.22 118.2 M75.9 115.52L80.22 115.52 M75.9 103.88L75.9 115.52 M56.8 109.7L75.9 109.7 M56.8 78.15L56.8 109.7 M36 93.92L56.8 93.92 M79.4 123.57L87.3 123.57 M79.4 127.15L87.3 127.15 M79.4 123.57L79.4 127.15 M67.9 125.36L79.4 125.36 M85.8 130.73L87.3 130.73 M85.2 134.31L87.3 134.31 M85.2 137.89L87.3 137.89 M85.2 134.31L85.2 137.89 M85.2 136.1L85.2 136.1 M85.2 141.47L87.3 141.47 M85.2 145.05L87.3 145.05 M85.2 141.47L85.2 145.05 M85.2 143.26L85.2 143.26 M85.2 136.1L85.2 143.26 M85.2 139.68L85.2 139.68 M85.2 148.63L87.3 148.63 M85.2 152.21L87.3 152.21 M85.2 148.63L85.2 152.21 M85.2 150.42L85.2 150.42 M85.2 155.79L87.3 155.79 M85.2 159.37L87.3 159.37 M85.2 155.79L85.2 159.37 M85.2 157.58L85.2 157.58 M85.2 150.42L85.2 157.58 M85.2 154L85.2 154 M85.2 139.68L85.2 154 M85.8 146.84L85.2 146.84 M85.8 130.73L85.8 146.84 M78 138.78L85.8 138.78 M83 162.95L87.3 162.95 M85.2 166.53L87.3 166.53 M85.2 170.11L87.3 170.11 M85.2 166.53L85.2 170.11 M84.6 168.32L85.2 168.32 M84.6 173.69L87.3 173.69 M84.6 168.32L84.6 173.69 M83 171L84.6 171 M83 162.95L83 171 M78 166.98L83 166.98 M78 138.78L78 166.98 M67.9 152.88L78 152.88 M67.9 125.36L67.9 152.88 M48.9 139.12L67.9 139.12 M79.4 177.27L87.3 177.27 M79.4 180.85L87.3 180.85 M79.4 177.27L79.4 180.85 M64.5 179.06L79.4 179.06 M83.12 184.43L87.3 184.43 M83.12 188.01L87.3 188.01 M83.12 184.43L83.12 188.01 M80.22 186.22L83.12 186.22 M80.22 191.59L87.3 191.59 M80.22 186.22L80.22 191.59 M75.9 188.9L80.22 188.9 M81.18 195.17L87.3 195.17 M81.18 198.75L87.3 198.75 M81.18 195.17L81.18 198.75 M75.9 196.96L81.18 196.96 M75.9 188.9L75.9 196.96 M64.5 192.93L75.9 192.93 M64.5 179.06L64.5 192.93 M48.9 186L64.5 186 M48.9 139.12L48.9 186 M36 162.56L48.9 162.56 M36 93.92L36 162.56 M26.9 128.24L36 128.24 M26.9 43.69L26.9 128.24 M3.9 85.97L26.9 85.97 M76.3 202.33L87.3 202.33 M83.22 205.91L87.3 205.91 M83.22 209.49L87.3 209.49 M83.22 205.91L83.22 209.49 M80.44 207.7L83.22 207.7 M83.22 213.07L87.3 213.07 M83.22 216.65L87.3 216.65 M83.22 213.07L83.22 216.65 M80.44 214.86L83.22 214.86 M80.44 207.7L80.44 214.86 M76.3 211.28L80.44 211.28 M76.3 202.33L76.3 211.28 M54.6 206.81L76.3 206.81 M72.8 220.23L87.3 220.23 M72.8 223.81L87.3 223.81 M72.8 220.23L72.8 223.81 M57.2 222.02L72.8 222.02 M82.48 227.39L87.3 227.39 M82.48 230.97L87.3 230.97 M82.48 227.39L82.48 230.97 M78.79 229.18L82.48 229.18 M82.48 234.55L87.3 234.55 M82.48 238.13L87.3 238.13 M82.48 234.55L82.48 238.13 M78.79 236.34L82.48 236.34 M78.79 229.18L78.79 236.34 M73.3 232.76L78.79 232.76 M73.3 241.71L87.3 241.71 M73.3 232.76L73.3 241.71 M67.9 237.23L73.3 237.23 M83.63 245.29L87.3 245.29 M83.63 248.87L87.3 248.87 M83.63 245.29L83.63 248.87 M81.35 247.08L83.63 247.08 M84.82 252.45L87.3 252.45 M84.82 256.03L87.3 256.03 M84.82 252.45L84.82 256.03 M83.22 254.24L84.82 254.24 M83.22 259.61L87.3 259.61 M83.22 254.24L83.22 259.61 M81.35 256.93L83.22 256.93 M81.35 247.08L81.35 256.93 M79.4 252L81.35 252 M84.82 263.19L87.3 263.19 M84.82 266.77L87.3 266.77 M84.82 263.19L84.82 266.77 M83.22 264.98L84.82 264.98 M83.22 270.35L87.3 270.35 M83.22 264.98L83.22 270.35 M81.35 267.67L83.22 267.67 M83.63 273.93L87.3 273.93 M83.63 277.51L87.3 277.51 M83.63 273.93L83.63 277.51 M81.35 275.72L83.63 275.72 M81.35 267.67L81.35 275.72 M79.4 271.69L81.35 271.69 M79.4 252L79.4 271.69 M67.9 261.85L79.4 261.85 M67.9 237.23L67.9 261.85 M57.2 249.54L67.9 249.54 M57.2 222.02L57.2 249.54 M54.6 235.78L57.2 235.78 M54.6 206.81L54.6 235.78 M27.4 221.29L54.6 221.29 M83 281.09L87.3 281.09 M83 284.67L87.3 284.67 M83 281.09L83 284.67 M79.95 282.88L83 282.88 M79.95 288.25L87.3 288.25 M79.95 282.88L79.95 288.25 M75.4 285.56L79.95 285.56 M80.95 291.83L87.3 291.83 M80.95 295.41L87.3 295.41 M80.95 291.83L80.95 295.41 M75.4 293.62L80.95 293.62 M75.4 285.56L75.4 293.62 M62.4 289.59L75.4 289.59 M80.55 298.99L87.3 298.99 M80.55 302.57L87.3 302.57 M80.55 298.99L80.55 302.57 M74.5 300.78L80.55 300.78 M74.5 306.15L87.3 306.15 M74.5 300.78L74.5 306.15 M62.4 303.46L74.5 303.46 M62.4 289.59L62.4 303.46 M51.1 296.53L62.4 296.53 M82.53 309.73L87.3 309.73 M82.53 313.31L87.3 313.31 M82.53 309.73L82.53 313.31 M78.9 311.52L82.53 311.52 M78.9 316.89L87.3 316.89 M78.9 311.52L78.9 316.89 M66.2 314.2L78.9 314.2 M84.2 320.47L87.3 320.47 M84.2 324.05L87.3 324.05 M84.2 320.47L84.2 324.05 M82.6 322.26L84.2 322.26 M82.6 327.63L87.3 327.63 M82.6 322.26L82.6 327.63 M80.23 324.94L82.6 324.94 M80.23 331.21L87.3 331.21 M80.23 324.94L80.23 331.21 M75.91 328.08L80.23 328.08 M83.13 334.79L87.3 334.79 M83.13 338.37L87.3 338.37 M83.13 334.79L83.13 338.37 M80.23 336.58L83.13 336.58 M80.23 341.95L87.3 341.95 M80.23 336.58L80.23 341.95 M75.91 339.26L80.23 339.26 M75.91 328.08L75.91 339.26 M71.4 333.67L75.91 333.67 M78.98 345.53L87.3 345.53 M83.89 349.11L87.3 349.11 M83.89 352.69L87.3 352.69 M83.89 349.11L83.89 352.69 M81.91 350.9L83.89 350.9 M83.89 356.27L87.3 356.27 M83.89 359.85L87.3 359.85 M83.89 356.27L83.89 359.85 M81.91 358.06L83.89 358.06 M81.91 350.9L81.91 358.06 M78.98 354.48L81.91 354.48 M78.98 345.53L78.98 354.48 M75.91 350L78.98 350 M81.19 363.43L87.3 363.43 M81.19 367.01L87.3 367.01 M81.19 363.43L81.19 367.01 M75.91 365.22L81.19 365.22 M75.91 350L75.91 365.22 M71.4 357.61L75.91 357.61 M71.4 333.67L71.4 357.61 M66.2 345.64L71.4 345.64 M66.2 314.2L66.2 345.64 M51.1 329.92L66.2 329.92 M51.1 296.53L51.1 329.92 M27.4 313.23L51.1 313.23 M27.4 221.29L27.4 313.23 M18.2 267.26L27.4 267.26 M64.5 370.59L87.3 370.59 M75.4 374.17L87.3 374.17 M75.4 377.75L87.3 377.75 M75.4 374.17L75.4 377.75 M64.5 375.96L75.4 375.96 M64.5 370.59L64.5 375.96 M50.6 373.27L64.5 373.27 M80.19 381.33L87.3 381.33 M80.19 384.91L87.3 384.91 M80.19 381.33L80.19 384.91 M73.7 383.12L80.19 383.12 M80.19 388.49L87.3 388.49 M80.19 392.07L87.3 392.07 M80.19 388.49L80.19 392.07 M73.7 390.28L80.19 390.28 M73.7 383.12L73.7 390.28 M65 386.7L73.7 386.7 M83.22 395.65L87.3 395.65 M83.22 399.23L87.3 399.23 M83.22 395.65L83.22 399.23 M80.44 397.44L83.22 397.44 M80.44 402.81L87.3 402.81 M80.44 397.44L80.44 402.81 M76.3 400.12L80.44 400.12 M76.3 406.39L87.3 406.39 M76.3 400.12L76.3 406.39 M65 403.26L76.3 403.26 M65 386.7L65 403.26 M50.6 394.98L65 394.98 M50.6 373.27L50.6 394.98 M29.5 384.13L50.6 384.13 M76.5 409.97L87.3 409.97 M76.5 413.55L87.3 413.55 M76.5 409.97L76.5 413.55 M65.5 411.76L76.5 411.76 M65.5 417.13L87.3 417.13 M65.5 411.76L65.5 417.13 M29.5 414.44L65.5 414.44 M29.5 384.13L29.5 414.44 M18.2 399.29L29.5 399.29 M18.2 267.26L18.2 399.29 M14.2 333.27L18.2 333.27 M83.2 420.71L87.3 420.71 M83.2 424.29L87.3 424.29 M83.2 420.71L83.2 424.29 M59.8 422.5L83.2 422.5 M82.26 427.87L87.3 427.87 M82.26 431.45L87.3 431.45 M82.26 427.87L82.26 431.45 M78.3 429.66L82.26 429.66 M82.26 435.03L87.3 435.03 M82.26 438.61L87.3 438.61 M82.26 435.03L82.26 438.61 M78.3 436.82L82.26 436.82 M78.3 429.66L78.3 436.82 M72.4 433.24L78.3 433.24 M82.26 442.19L87.3 442.19 M82.26 445.77L87.3 445.77 M82.26 442.19L82.26 445.77 M78.3 443.98L82.26 443.98 M82.26 449.35L87.3 449.35 M82.26 452.93L87.3 452.93 M82.26 449.35L82.26 452.93 M78.3 451.14L82.26 451.14 M78.3 443.98L78.3 451.14 M72.4 447.56L78.3 447.56 M72.4 433.24L72.4 447.56 M65.9 440.4L72.4 440.4 M83.95 456.51L87.3 456.51 M83.95 460.09L87.3 460.09 M83.95 456.51L83.95 460.09 M82.06 458.3L83.95 458.3 M82.06 463.67L87.3 463.67 M82.06 458.3L82.06 463.67 M79.24 460.99L82.06 460.99 M82.68 467.25L87.3 467.25 M82.68 470.83L87.3 470.83 M82.68 467.25L82.68 470.83 M79.24 469.04L82.68 469.04 M79.24 460.99L79.24 469.04 M76.3 465.01L79.24 465.01 M83.22 474.41L87.3 474.41 M83.22 477.99L87.3 477.99 M83.22 474.41L83.22 477.99 M80.44 476.2L83.22 476.2 M83.22 481.57L87.3 481.57 M83.22 485.15L87.3 485.15 M83.22 481.57L83.22 485.15 M80.44 483.36L83.22 483.36 M80.44 476.2L80.44 483.36 M76.3 479.78L80.44 479.78 M76.3 465.01L76.3 479.78 M65.9 472.4L76.3 472.4 M65.9 440.4L65.9 472.4 M59.8 456.4L65.9 456.4 M59.8 422.5L59.8 456.4 M38.5 439.45L59.8 439.45 M84 488.73L87.3 488.73 M84 492.31L87.3 492.31 M84 488.73L84 492.31 M72.4 490.52L84 490.52 M83 495.89L87.3 495.89 M83 499.47L87.3 499.47 M83 495.89L83 499.47 M79.95 497.68L83 497.68 M83 503.05L87.3 503.05 M83 506.63L87.3 506.63 M83 503.05L83 506.63 M79.95 504.84L83 504.84 M79.95 497.68L79.95 504.84 M75.4 501.26L79.95 501.26 M83 510.21L87.3 510.21 M83 513.79L87.3 513.79 M83 510.21L83 513.79 M79.95 512L83 512 M79.95 517.37L87.3 517.37 M79.95 512L79.95 517.37 M75.4 514.68L79.95 514.68 M75.4 501.26L75.4 514.68 M72.4 507.97L75.4 507.97 M72.4 490.52L72.4 507.97 M43 499.25L72.4 499.25 M84 520.95L87.3 520.95 M84 524.53L87.3 524.53 M84 520.95L84 524.53 M69.7 522.74L84 522.74 M83.77 528.11L87.3 528.11 M83.77 531.69L87.3 531.69 M83.77 528.11L83.77 531.69 M81.65 529.9L83.77 529.9 M81.65 535.27L87.3 535.27 M81.65 529.9L81.65 535.27 M78.5 532.59L81.65 532.59 M82.35 538.85L87.3 538.85 M82.35 542.43L87.3 542.43 M82.35 538.85L82.35 542.43 M78.5 540.64L82.35 540.64 M78.5 532.59L78.5 540.64 M75.2 536.61L78.5 536.61 M82.95 546.01L87.3 546.01 M82.95 549.59L87.3 549.59 M82.95 546.01L82.95 549.59 M79.84 547.8L82.95 547.8 M82.95 553.17L87.3 553.17 M82.95 556.75L87.3 556.75 M82.95 553.17L82.95 556.75 M79.84 554.96L82.95 554.96 M79.84 547.8L79.84 554.96 M75.2 551.38L79.84 551.38 M75.2 536.61L75.2 551.38 M71.8 544L75.2 544 M85.04 560.33L87.3 560.33 M85.04 563.91L87.3 563.91 M85.04 560.33L85.04 563.91 M83.44 562.12L85.04 562.12 M85.04 567.49L87.3 567.49 M85.04 571.07L87.3 571.07 M85.04 567.49L85.04 571.07 M83.44 569.28L85.04 569.28 M83.44 562.12L83.44 569.28 M81.76 565.7L83.44 565.7 M85.04 574.65L87.3 574.65 M85.04 578.23L87.3 578.23 M85.04 574.65L85.04 578.23 M83.44 576.44L85.04 576.44 M83.44 581.81L87.3 581.81 M83.44 576.44L83.44 581.81 M81.76 579.12L83.44 579.12 M81.76 565.7L81.76 579.12 M80 572.41L81.76 572.41 M85.04 585.39L87.3 585.39 M85.2 588.97L87.3 588.97 M85.2 592.55L87.3 592.55 M85.2 588.97L85.2 592.55 M85.04 590.76L85.2 590.76 M85.04 585.39L85.04 590.76 M83.44 588.08L85.04 588.08 M83.44 596.13L87.3 596.13 M83.44 588.08L83.44 596.13 M81.76 592.1L83.44 592.1 M83.82 599.71L87.3 599.71 M83.82 603.29L87.3 603.29 M83.82 599.71L83.82 603.29 M81.76 601.5L83.82 601.5 M81.76 592.1L81.76 601.5 M80 596.8L81.76 596.8 M80 572.41L80 596.8 M71.8 584.61L80 584.61 M71.8 544L71.8 584.61 M69.7 564.3L71.8 564.3 M69.7 522.74L69.7 564.3 M43 543.52L69.7 543.52 M43 499.25L43 543.52 M38.5 521.38L43 521.38 M38.5 439.45L38.5 521.38 M14.2 480.42L38.5 480.42 M14.2 333.27L14.2 480.42 M3.9 406.84L14.2 406.84 M3.9 85.97L3.9 406.84 M2.9 246.41L3.9 246.41 M86.3 606.87L86.3 628.35 M2.9 617.61L86.3 617.61 M86.3 631.93L86.3 639.09 M2.9 635.51L86.3 635.51 M2.9 642.67L86.3 642.67 M2.9 246.41L2.9 642.67 M86.3 606.87L87.3 606.87 M86.3 610.45L87.3 610.45 M86.3 614.03L87.3 614.03 M86.3 617.61L87.3 617.61 M86.3 621.19L87.3 621.19 M86.3 624.77L87.3 624.77 M86.3 628.35L87.3 628.35 M86.3 631.93L87.3 631.93 M86.3 635.51L87.3 635.51 M86.3 639.09L87.3 639.09" fill="none" stroke="#222" stroke-width="0.8" stroke-linecap="square"/>
</g>
<g id="panelB">
<g stroke="#000" stroke-width="0.2"><text transform="translate(280.4,134.8) rotate(-90)" font-size="7.9">Thrombin 0h</text>
<text transform="translate(288.31,134.8) rotate(-90)" font-size="7.9">Thrombin 2h</text>
<text transform="translate(296.22,134.8) rotate(-90)" font-size="7.9">Thrombin 6h</text>
<text transform="translate(304.13,134.8) rotate(-90)" font-size="7.9">Thrombin 24h</text>
<text transform="translate(312.04,134.8) rotate(-90)" font-size="7.9">TGF-<tspan font-weight="normal">β</tspan> 0h</text>
<text transform="translate(319.95,134.8) rotate(-90)" font-size="7.9">TGF-<tspan font-weight="normal">β</tspan> 2h</text>
<text transform="translate(327.85,134.8) rotate(-90)" font-size="7.9">TGF-<tspan font-weight="normal">β</tspan> 6h</text>
<text transform="translate(335.76,134.8) rotate(-90)" font-size="7.9">TGF-<tspan font-weight="normal">β</tspan> 24h</text>
<text transform="translate(343.67,134.8) rotate(-90)" font-size="7.9">VEGF 2h</text>
<text transform="translate(351.58,134.8) rotate(-90)" font-size="7.9">VEGF 6h</text>
<text transform="translate(359.49,134.8) rotate(-90)" font-size="7.9">IL-1<tspan font-weight="normal">β</tspan> 0h</text>
<text transform="translate(367.4,134.8) rotate(-90)" font-size="7.9">IL-1<tspan font-weight="normal">β</tspan> 2h</text>
<text transform="translate(375.3,134.8) rotate(-90)" font-size="7.9">IL-1<tspan font-weight="normal">β</tspan> 6h</text>
<text transform="translate(383.21,134.8) rotate(-90)" font-size="7.9">IL-1<tspan font-weight="normal">β</tspan> 24h</text>
<text transform="translate(391.12,134.8) rotate(-90)" font-size="7.9">TNF-<tspan font-weight="normal">α</tspan> 0h</text>
<text transform="translate(399.03,134.8) rotate(-90)" font-size="7.9">TNF-<tspan font-weight="normal">α</tspan> 2h</text>
<text transform="translate(406.94,134.8) rotate(-90)" font-size="7.9">TNF-<tspan font-weight="normal">α</tspan> 6h</text>
<text transform="translate(414.85,134.8) rotate(-90)" font-size="7.9">TNF-<tspan font-weight="normal">α</tspan> 24h</text>
<text transform="translate(422.75,134.8) rotate(-90)" font-size="7.9">Static</text>
<text transform="translate(430.66,134.8) rotate(-90)" font-size="7.9">Shear 7days</text>
<text transform="translate(438.57,134.8) rotate(-90)" font-size="7.9">HeLa</text>
<text transform="translate(446.48,134.8) rotate(-90)" font-size="7.9">RF24</text>
<text transform="translate(454.39,134.8) rotate(-90)" font-size="7.9">HL60</text>
<text transform="translate(462.3,134.8) rotate(-90)" font-size="7.9">SMC</text></g>
<rect x="274.5" y="136.7" width="29.83" height="1.9" fill="#000"/>
<rect x="306.13" y="136.7" width="29.83" height="1.9" fill="#000"/>
<rect x="337.77" y="136.7" width="14.02" height="1.9" fill="#000"/>
<rect x="353.58" y="136.7" width="29.83" height="1.9" fill="#000"/>
<rect x="385.22" y="136.7" width="29.83" height="1.9" fill="#000"/>
<rect x="416.85" y="136.7" width="6.11" height="1.9" fill="#000"/>
<rect x="424.76" y="136.7" width="6.11" height="1.9" fill="#000"/>
<rect x="432.67" y="136.7" width="6.11" height="1.9" fill="#000"/>
<rect x="440.57" y="136.7" width="6.11" height="1.9" fill="#000"/>
<rect x="448.48" y="136.7" width="6.11" height="1.9" fill="#000"/>
<rect x="456.39" y="136.7" width="6.11" height="1.9" fill="#000"/>
<g filter="url(#bl2)">
<rect x="273.6" y="142.5" width="189.8" height="7.4" fill="#000"/>
<rect x="423.86" y="142.5" width="7.91" height="7.4" fill="#f41a26"/>
<rect x="273.6" y="153.9" width="189.8" height="46.2" fill="#000"/>
<rect x="273.6" y="153.9" width="7.91" height="7.7" fill="#3a0406"/>
<rect x="423.86" y="153.9" width="15.82" height="7.7" fill="#f41a26"/>
<rect x="439.67" y="153.9" width="7.91" height="7.7" fill="#780c10"/>
<rect x="447.58" y="153.9" width="7.91" height="7.7" fill="#3a0406"/>
<rect x="423.86" y="161.6" width="7.91" height="7.7" fill="#c8161e"/>
<rect x="455.49" y="161.6" width="7.91" height="7.7" fill="#3a0406"/>
<rect x="423.86" y="169.3" width="7.91" height="7.7" fill="#f41a26"/>
<rect x="447.58" y="169.3" width="7.91" height="7.7" fill="#c8161e"/>
<rect x="455.49" y="177" width="7.91" height="7.7" fill="#3a0406"/>
<rect x="455.49" y="184.7" width="7.91" height="7.7" fill="#3a0406"/>
<rect x="384.32" y="192.4" width="7.91" height="7.7" fill="#25902a"/>
<rect x="423.86" y="192.4" width="7.91" height="7.7" fill="#f41a26"/>
<rect x="431.77" y="192.4" width="7.91" height="7.7" fill="#062c06"/>
<rect x="455.49" y="192.4" width="7.91" height="7.7" fill="#25902a"/>
<rect x="423.66" y="153.7" width="8.31" height="46.6" fill="none" stroke="#ecd070" stroke-width="0.9"/>
</g>
<g font-size="7.5" stroke="#000" stroke-width="0.2"><text x="467.6" y="160.45" style="fill:#2a4fc4;stroke:#2a4fc4">DIA4</text>
<text x="467.6" y="168.15">GDN</text>
<text x="467.6" y="175.85" style="fill:#2a4fc4;stroke:#2a4fc4">CYP1B1</text>
<text x="467.6" y="183.55">KLF8</text>
<text x="467.6" y="191.25">ABCA1</text>
<text x="467.6" y="198.95" style="fill:#2a4fc4;stroke:#2a4fc4">KLF2</text></g>
<path d="M262.8 158.2L270.3 158.2 M262.8 158.2L262.8 174 M262.8 174L265.6 174 M265.6 166.3L270.3 166.3 M265.6 166.3L265.6 180.4 M265.6 180.4L268.3 180.4 M268.3 173.5L270.3 173.5 M268.3 173.5L268.3 186.5 M268.3 186.5L269.3 186.5 M269.3 181.2L269.3 190.2 M269.3 181.2L270.3 181.2 M269.3 190.2L270.3 190.2 M253 166.3L262.8 166.3 M253 166.3L253 197.3 M253 197.3L270.3 197.3" fill="none" stroke="#000" stroke-width="1" stroke-linecap="square"/>
</g>
<g id="panelC">
<g filter="url(#bl2)">
<rect x="273.6" y="225.3" width="189.8" height="6.8" fill="#000"/>
<rect x="313.14" y="225.3" width="7.91" height="6.8" fill="#125a12"/>
<rect x="321.05" y="225.3" width="7.91" height="6.8" fill="#780c10"/>
<rect x="336.87" y="225.3" width="15.82" height="6.8" fill="#780c10"/>
<rect x="360.59" y="225.3" width="15.82" height="6.8" fill="#f41a26"/>
<rect x="392.23" y="225.3" width="23.72" height="6.8" fill="#f41a26"/>
<rect x="431.77" y="225.3" width="7.91" height="6.8" fill="#062c06"/>
<rect x="439.67" y="225.3" width="7.91" height="6.8" fill="#125a12"/>
<rect x="447.58" y="225.3" width="7.91" height="6.8" fill="#f41a26"/>
<rect x="273.6" y="236" width="189.8" height="133.1" fill="#000"/>
<rect x="313.14" y="236" width="7.91" height="7.83" fill="#c8161e"/>
<rect x="328.96" y="236" width="7.91" height="7.83" fill="#125a12"/>
<rect x="368.5" y="236" width="7.91" height="7.83" fill="#780c10"/>
<rect x="376.41" y="236" width="7.91" height="7.83" fill="#f41a26"/>
<rect x="384.32" y="236" width="7.91" height="7.83" fill="#780c10"/>
<rect x="392.23" y="236" width="23.72" height="7.83" fill="#f41a26"/>
<rect x="423.86" y="236" width="15.82" height="7.83" fill="#f41a26"/>
<rect x="447.58" y="236" width="7.91" height="7.83" fill="#f41a26"/>
<rect x="455.49" y="236" width="7.91" height="7.83" fill="#2cb024"/>
<rect x="289.42" y="243.83" width="7.91" height="7.83" fill="#f41a26"/>
<rect x="305.23" y="243.83" width="7.91" height="7.83" fill="#2cb024"/>
<rect x="313.14" y="243.83" width="7.91" height="7.83" fill="#44ea2c"/>
<rect x="321.05" y="243.83" width="7.91" height="7.83" fill="#f41a26"/>
<rect x="328.96" y="243.83" width="7.91" height="7.83" fill="#2cb024"/>
<rect x="336.87" y="243.83" width="15.82" height="7.83" fill="#f41a26"/>
<rect x="352.68" y="243.83" width="7.91" height="7.83" fill="#2cb024"/>
<rect x="368.5" y="243.83" width="15.82" height="7.83" fill="#44ea2c"/>
<rect x="392.23" y="243.83" width="23.72" height="7.83" fill="#f41a26"/>
<rect x="415.95" y="243.83" width="7.91" height="7.83" fill="#2cb024"/>
<rect x="423.86" y="243.83" width="7.91" height="7.83" fill="#f41a26"/>
<rect x="431.77" y="243.83" width="7.91" height="7.83" fill="#44ea2c"/>
<rect x="439.67" y="243.83" width="7.91" height="7.83" fill="#2cb024"/>
<rect x="447.58" y="243.83" width="15.82" height="7.83" fill="#44ea2c"/>
<rect x="313.14" y="251.66" width="7.91" height="7.83" fill="#44ea2c"/>
<rect x="392.23" y="251.66" width="7.91" height="7.83" fill="#c8161e"/>
<rect x="400.13" y="251.66" width="15.82" height="7.83" fill="#f41a26"/>
<rect x="423.86" y="251.66" width="7.91" height="7.83" fill="#780c10"/>
<rect x="431.77" y="251.66" width="15.82" height="7.83" fill="#44ea2c"/>
<rect x="273.6" y="259.49" width="7.91" height="7.83" fill="#125a12"/>
<rect x="305.23" y="259.49" width="7.91" height="7.83" fill="#2cb024"/>
<rect x="313.14" y="259.49" width="7.91" height="7.83" fill="#44ea2c"/>
<rect x="328.96" y="259.49" width="7.91" height="7.83" fill="#2cb024"/>
<rect x="392.23" y="259.49" width="7.91" height="7.83" fill="#f41a26"/>
<rect x="400.13" y="259.49" width="7.91" height="7.83" fill="#c8161e"/>
<rect x="408.04" y="259.49" width="7.91" height="7.83" fill="#f41a26"/>
<rect x="431.77" y="259.49" width="7.91" height="7.83" fill="#f41a26"/>
<rect x="439.67" y="259.49" width="7.91" height="7.83" fill="#2cb024"/>
<rect x="447.58" y="259.49" width="7.91" height="7.83" fill="#f41a26"/>
<rect x="360.59" y="267.32" width="7.91" height="7.83" fill="#3a0406"/>
<rect x="376.41" y="267.32" width="7.91" height="7.83" fill="#062c06"/>
<rect x="392.23" y="267.32" width="7.91" height="7.83" fill="#f41a26"/>
<rect x="400.13" y="267.32" width="7.91" height="7.83" fill="#c8161e"/>
<rect x="408.04" y="267.32" width="7.91" height="7.83" fill="#f41a26"/>
<rect x="431.77" y="267.32" width="15.82" height="7.83" fill="#2cb024"/>
<rect x="455.49" y="267.32" width="7.91" height="7.83" fill="#f41a26"/>
<rect x="273.6" y="275.15" width="7.91" height="7.83" fill="#062c06"/>
<rect x="305.23" y="275.15" width="15.82" height="7.83" fill="#062c06"/>
<rect x="360.59" y="275.15" width="7.91" height="7.83" fill="#f41a26"/>
<rect x="392.23" y="275.15" width="23.72" height="7.83" fill="#f41a26"/>
<rect x="431.77" y="275.15" width="15.82" height="7.83" fill="#125a12"/>
<rect x="297.33" y="282.98" width="7.91" height="7.83" fill="#125a12"/>
<rect x="313.14" y="282.98" width="7.91" height="7.83" fill="#125a12"/>
<rect x="321.05" y="282.98" width="7.91" height="7.83" fill="#f41a26"/>
<rect x="344.77" y="282.98" width="7.91" height="7.83" fill="#f41a26"/>
<rect x="360.59" y="282.98" width="7.91" height="7.83" fill="#780c10"/>
<rect x="392.23" y="282.98" width="7.91" height="7.83" fill="#c8161e"/>
<rect x="400.13" y="282.98" width="15.82" height="7.83" fill="#f41a26"/>
<rect x="431.77" y="282.98" width="15.82" height="7.83" fill="#2cb024"/>
<rect x="447.58" y="282.98" width="7.91" height="7.83" fill="#f41a26"/>
<rect x="455.49" y="282.98" width="7.91" height="7.83" fill="#780c10"/>
<rect x="360.59" y="290.81" width="23.72" height="7.83" fill="#f41a26"/>
<rect x="392.23" y="290.81" width="7.91" height="7.83" fill="#f41a26"/>
<rect x="400.13" y="290.81" width="7.91" height="7.83" fill="#c8161e"/>
<rect x="408.04" y="290.81" width="7.91" height="7.83" fill="#f41a26"/>
<rect x="273.6" y="298.64" width="7.91" height="7.83" fill="#125a12"/>
<rect x="305.23" y="298.64" width="7.91" height="7.83" fill="#062c06"/>
<rect x="336.87" y="298.64" width="7.91" height="7.83" fill="#062c06"/>
<rect x="360.59" y="298.64" width="7.91" height="7.83" fill="#f41a26"/>
<rect x="368.5" y="298.64" width="7.91" height="7.83" fill="#780c10"/>
<rect x="384.32" y="298.64" width="7.91" height="7.83" fill="#125a12"/>
<rect x="392.23" y="298.64" width="7.91" height="7.83" fill="#f41a26"/>
<rect x="400.13" y="298.64" width="7.91" height="7.83" fill="#c8161e"/>
<rect x="408.04" y="298.64" width="7.91" height="7.83" fill="#f41a26"/>
<rect x="431.77" y="298.64" width="15.82" height="7.83" fill="#062c06"/>
<rect x="273.6" y="306.46" width="23.72" height="7.83" fill="#44ea2c"/>
<rect x="305.23" y="306.46" width="15.82" height="7.83" fill="#44ea2c"/>
<rect x="321.05" y="306.46" width="7.91" height="7.83" fill="#062c06"/>
<rect x="328.96" y="306.46" width="15.82" height="7.83" fill="#f41a26"/>
<rect x="352.68" y="306.46" width="23.72" height="7.83" fill="#f41a26"/>
<rect x="376.41" y="306.46" width="7.91" height="7.83" fill="#44ea2c"/>
<rect x="384.32" y="306.46" width="47.45" height="7.83" fill="#f41a26"/>
<rect x="431.77" y="306.46" width="7.91" height="7.83" fill="#44ea2c"/>
<rect x="447.58" y="306.46" width="7.91" height="7.83" fill="#44ea2c"/>
<rect x="360.59" y="314.29" width="7.91" height="7.83" fill="#c8161e"/>
<rect x="392.23" y="314.29" width="7.91" height="7.83" fill="#780c10"/>
<rect x="400.13" y="314.29" width="7.91" height="7.83" fill="#f41a26"/>
<rect x="408.04" y="314.29" width="7.91" height="7.83" fill="#780c10"/>
<rect x="321.05" y="322.12" width="7.91" height="7.83" fill="#f41a26"/>
<rect x="344.77" y="322.12" width="7.91" height="7.83" fill="#f41a26"/>
<rect x="360.59" y="322.12" width="7.91" height="7.83" fill="#3a0406"/>
<rect x="392.23" y="322.12" width="7.91" height="7.83" fill="#3a0406"/>
<rect x="400.13" y="322.12" width="7.91" height="7.83" fill="#f41a26"/>
<rect x="408.04" y="322.12" width="7.91" height="7.83" fill="#780c10"/>
<rect x="447.58" y="322.12" width="7.91" height="7.83" fill="#780c10"/>
<rect x="321.05" y="329.95" width="7.91" height="7.83" fill="#780c10"/>
<rect x="344.77" y="329.95" width="7.91" height="7.83" fill="#780c10"/>
<rect x="392.23" y="329.95" width="7.91" height="7.83" fill="#780c10"/>
<rect x="400.13" y="329.95" width="15.82" height="7.83" fill="#f41a26"/>
<rect x="447.58" y="329.95" width="7.91" height="7.83" fill="#3a0406"/>
<rect x="352.68" y="337.78" width="7.91" height="7.83" fill="#2cb024"/>
<rect x="360.59" y="337.78" width="7.91" height="7.83" fill="#f41a26"/>
<rect x="368.5" y="337.78" width="7.91" height="7.83" fill="#c8161e"/>
<rect x="376.41" y="337.78" width="7.91" height="7.83" fill="#f41a26"/>
<rect x="384.32" y="337.78" width="7.91" height="7.83" fill="#2cb024"/>
<rect x="392.23" y="337.78" width="23.72" height="7.83" fill="#f41a26"/>
<rect x="415.95" y="337.78" width="31.63" height="7.83" fill="#125a12"/>
<rect x="447.58" y="337.78" width="7.91" height="7.83" fill="#f41a26"/>
<rect x="455.49" y="337.78" width="7.91" height="7.83" fill="#3a0406"/>
<rect x="313.14" y="345.61" width="7.91" height="7.83" fill="#2cb024"/>
<rect x="352.68" y="345.61" width="7.91" height="7.83" fill="#125a12"/>
<rect x="360.59" y="345.61" width="23.72" height="7.83" fill="#f41a26"/>
<rect x="384.32" y="345.61" width="7.91" height="7.83" fill="#062c06"/>
<rect x="392.23" y="345.61" width="23.72" height="7.83" fill="#f41a26"/>
<rect x="415.95" y="345.61" width="7.91" height="7.83" fill="#125a12"/>
<rect x="423.86" y="345.61" width="7.91" height="7.83" fill="#780c10"/>
<rect x="431.77" y="345.61" width="15.82" height="7.83" fill="#44ea2c"/>
<rect x="447.58" y="345.61" width="7.91" height="7.83" fill="#125a12"/>
<rect x="273.6" y="353.44" width="7.91" height="7.83" fill="#125a12"/>
<rect x="297.33" y="353.44" width="23.72" height="7.83" fill="#125a12"/>
<rect x="360.59" y="353.44" width="23.72" height="7.83" fill="#f41a26"/>
<rect x="384.32" y="353.44" width="7.91" height="7.83" fill="#125a12"/>
<rect x="392.23" y="353.44" width="23.72" height="7.83" fill="#f41a26"/>
<rect x="423.86" y="353.44" width="7.91" height="7.83" fill="#062c06"/>
<rect x="431.77" y="353.44" width="15.82" height="7.83" fill="#125a12"/>
<rect x="447.58" y="353.44" width="7.91" height="7.83" fill="#f41a26"/>
<rect x="273.6" y="361.27" width="7.91" height="7.83" fill="#44ea2c"/>
<rect x="281.51" y="361.27" width="7.91" height="7.83" fill="#2cb024"/>
<rect x="289.42" y="361.27" width="7.91" height="7.83" fill="#125a12"/>
<rect x="297.33" y="361.27" width="15.82" height="7.83" fill="#2cb024"/>
<rect x="313.14" y="361.27" width="7.91" height="7.83" fill="#44ea2c"/>
<rect x="328.96" y="361.27" width="7.91" height="7.83" fill="#2cb024"/>
<rect x="336.87" y="361.27" width="7.91" height="7.83" fill="#780c10"/>
<rect x="352.68" y="361.27" width="7.91" height="7.83" fill="#780c10"/>
<rect x="376.41" y="361.27" width="7.91" height="7.83" fill="#3a0406"/>
<rect x="384.32" y="361.27" width="7.91" height="7.83" fill="#44ea2c"/>
<rect x="392.23" y="361.27" width="7.91" height="7.83" fill="#3a0406"/>
<rect x="400.13" y="361.27" width="7.91" height="7.83" fill="#780c10"/>
<rect x="408.04" y="361.27" width="7.91" height="7.83" fill="#f41a26"/>
<rect x="415.95" y="361.27" width="7.91" height="7.83" fill="#3a0406"/>
<rect x="431.77" y="361.27" width="7.91" height="7.83" fill="#2cb024"/>
<rect x="360.39" y="235.8" width="24.12" height="133.5" fill="none" stroke="#ecd070" stroke-width="0.9"/>
<rect x="392.03" y="235.8" width="24.12" height="133.5" fill="none" stroke="#ecd070" stroke-width="0.9"/>
</g>
<g font-size="7.5" stroke="#000" stroke-width="0.2"><text x="467.6" y="242.61">FTH1</text>
<text x="467.6" y="250.44">PECAM1</text>
<text x="467.6" y="258.27">OLR1</text>
<text x="467.6" y="266.1">GB:AI632668</text>
<text x="467.6" y="273.93">VCAM1</text>
<text x="467.6" y="281.76">ICAM1</text>
<text x="467.6" y="289.59">PLAUR</text>
<text x="467.6" y="297.42">ICAM1</text>
<text x="467.6" y="305.25">PLAU</text>
<text x="467.6" y="313.08">SERPINE1</text>
<text x="467.6" y="320.91">F3</text>
<text x="467.6" y="328.74">DD:AG7_1</text>
<text x="467.6" y="336.57">SOD2</text>
<text x="467.6" y="344.4">SCYA2</text>
<text x="467.6" y="352.23">SOD2</text>
<text x="467.6" y="360.06">IL8</text>
<text x="467.6" y="367.89">ANXA5</text></g>
<path d="M252.9 239.91L271.3 239.91 M266.8 247.74L271.3 247.74 M266.8 255.57L271.3 255.57 M266.8 247.74L266.8 255.57 M252.9 251.66L266.8 251.66 M252.9 239.91L252.9 251.66 M229.5 245.79L252.9 245.79 M266.8 263.4L271.3 263.4 M266.8 271.23L271.3 271.23 M266.8 263.4L266.8 271.23 M255 267.32L266.8 267.32 M268.2 279.06L271.3 279.06 M268.2 286.89L271.3 286.89 M268.2 279.06L268.2 286.89 M262.7 282.98L268.2 282.98 M268.9 294.72L271.3 294.72 M268.9 302.55L271.3 302.55 M268.9 294.72L268.9 302.55 M262.7 298.64L268.9 298.64 M262.7 282.98L262.7 298.64 M255 290.81L262.7 290.81 M255 267.32L255 290.81 M242.9 279.06L255 279.06 M263.4 310.38L271.3 310.38 M267.7 318.21L271.3 318.21 M267.7 326.04L271.3 326.04 M267.7 318.21L267.7 326.04 M263.4 322.12L267.7 322.12 M263.4 310.38L263.4 322.12 M242.9 316.25L263.4 316.25 M242.9 279.06L242.9 316.25 M239.6 297.66L242.9 297.66 M270.2 333.87L271.3 333.87 M270.2 341.7L271.3 341.7 M270.2 333.87L270.2 341.7 M267.7 337.78L270.2 337.78 M267.7 349.53L271.3 349.53 M267.7 337.78L267.7 349.53 M262.5 343.65L267.7 343.65 M262.5 357.36L271.3 357.36 M262.5 343.65L262.5 357.36 M254.7 350.51L262.5 350.51 M254.7 365.19L271.3 365.19 M254.7 350.51L254.7 365.19 M239.6 357.85L254.7 357.85 M239.6 297.66L239.6 357.85 M229.5 327.75L239.6 327.75 M229.5 245.79L229.5 327.75" fill="none" stroke="#000" stroke-width="1" stroke-linecap="square"/>
</g>
<g id="panelD">
<g filter="url(#bl2)">
<rect x="273.6" y="393.2" width="189.8" height="7.1" fill="#000"/>
<rect x="273.6" y="393.2" width="7.91" height="7.1" fill="#125a12"/>
<rect x="313.14" y="393.2" width="7.91" height="7.1" fill="#062c06"/>
<rect x="328.96" y="393.2" width="7.91" height="7.1" fill="#062c06"/>
<rect x="336.87" y="393.2" width="7.91" height="7.1" fill="#780c10"/>
<rect x="392.23" y="393.2" width="7.91" height="7.1" fill="#780c10"/>
<rect x="400.13" y="393.2" width="7.91" height="7.1" fill="#f41a26"/>
<rect x="408.04" y="393.2" width="7.91" height="7.1" fill="#c8161e"/>
<rect x="423.86" y="393.2" width="7.91" height="7.1" fill="#f41a26"/>
<rect x="431.77" y="393.2" width="7.91" height="7.1" fill="#125a12"/>
<rect x="447.58" y="393.2" width="7.91" height="7.1" fill="#f41a26"/>
<rect x="273.6" y="404" width="189.8" height="149" fill="#000"/>
<rect x="305.23" y="404" width="7.91" height="7.84" fill="#780c10"/>
<rect x="321.05" y="404" width="7.91" height="7.84" fill="#f41a26"/>
<rect x="328.96" y="404" width="7.91" height="7.84" fill="#2cb024"/>
<rect x="336.87" y="404" width="7.91" height="7.84" fill="#c8161e"/>
<rect x="344.77" y="404" width="7.91" height="7.84" fill="#f41a26"/>
<rect x="368.5" y="404" width="7.91" height="7.84" fill="#125a12"/>
<rect x="384.32" y="404" width="7.91" height="7.84" fill="#44ea2c"/>
<rect x="400.13" y="404" width="7.91" height="7.84" fill="#3a0406"/>
<rect x="423.86" y="404" width="7.91" height="7.84" fill="#f41a26"/>
<rect x="431.77" y="404" width="15.82" height="7.84" fill="#44ea2c"/>
<rect x="447.58" y="404" width="15.82" height="7.84" fill="#f41a26"/>
<rect x="273.6" y="411.84" width="23.72" height="7.84" fill="#44ea2c"/>
<rect x="305.23" y="411.84" width="7.91" height="7.84" fill="#2cb024"/>
<rect x="321.05" y="411.84" width="7.91" height="7.84" fill="#f41a26"/>
<rect x="328.96" y="411.84" width="7.91" height="7.84" fill="#44ea2c"/>
<rect x="336.87" y="411.84" width="15.82" height="7.84" fill="#f41a26"/>
<rect x="368.5" y="411.84" width="7.91" height="7.84" fill="#2cb024"/>
<rect x="384.32" y="411.84" width="7.91" height="7.84" fill="#44ea2c"/>
<rect x="400.13" y="411.84" width="15.82" height="7.84" fill="#f41a26"/>
<rect x="423.86" y="411.84" width="7.91" height="7.84" fill="#c8161e"/>
<rect x="431.77" y="411.84" width="7.91" height="7.84" fill="#44ea2c"/>
<rect x="439.67" y="411.84" width="15.82" height="7.84" fill="#f41a26"/>
<rect x="455.49" y="411.84" width="7.91" height="7.84" fill="#2cb024"/>
<rect x="273.6" y="419.68" width="7.91" height="7.84" fill="#062c06"/>
<rect x="305.23" y="419.68" width="15.82" height="7.84" fill="#062c06"/>
<rect x="384.32" y="419.68" width="7.91" height="7.84" fill="#062c06"/>
<rect x="400.13" y="419.68" width="7.91" height="7.84" fill="#f41a26"/>
<rect x="431.77" y="419.68" width="7.91" height="7.84" fill="#062c06"/>
<rect x="447.58" y="419.68" width="15.82" height="7.84" fill="#f41a26"/>
<rect x="321.05" y="427.53" width="7.91" height="7.84" fill="#f41a26"/>
<rect x="336.87" y="427.53" width="15.82" height="7.84" fill="#f41a26"/>
<rect x="392.23" y="427.53" width="7.91" height="7.84" fill="#3a0406"/>
<rect x="400.13" y="427.53" width="7.91" height="7.84" fill="#780c10"/>
<rect x="423.86" y="427.53" width="7.91" height="7.84" fill="#780c10"/>
<rect x="273.6" y="435.37" width="7.91" height="7.84" fill="#125a12"/>
<rect x="305.23" y="435.37" width="15.82" height="7.84" fill="#125a12"/>
<rect x="376.41" y="435.37" width="15.82" height="7.84" fill="#125a12"/>
<rect x="392.23" y="435.37" width="7.91" height="7.84" fill="#f41a26"/>
<rect x="400.13" y="435.37" width="7.91" height="7.84" fill="#780c10"/>
<rect x="408.04" y="435.37" width="7.91" height="7.84" fill="#f41a26"/>
<rect x="423.86" y="435.37" width="7.91" height="7.84" fill="#c8161e"/>
<rect x="447.58" y="435.37" width="7.91" height="7.84" fill="#f41a26"/>
<rect x="273.6" y="443.21" width="7.91" height="7.84" fill="#125a12"/>
<rect x="281.51" y="443.21" width="15.82" height="7.84" fill="#2cb024"/>
<rect x="305.23" y="443.21" width="15.82" height="7.84" fill="#2cb024"/>
<rect x="328.96" y="443.21" width="7.91" height="7.84" fill="#125a12"/>
<rect x="392.23" y="443.21" width="23.72" height="7.84" fill="#f41a26"/>
<rect x="423.86" y="443.21" width="7.91" height="7.84" fill="#f41a26"/>
<rect x="447.58" y="443.21" width="7.91" height="7.84" fill="#f41a26"/>
<rect x="273.6" y="451.05" width="7.91" height="7.84" fill="#2cb024"/>
<rect x="321.05" y="451.05" width="7.91" height="7.84" fill="#3a0406"/>
<rect x="336.87" y="451.05" width="7.91" height="7.84" fill="#780c10"/>
<rect x="344.77" y="451.05" width="7.91" height="7.84" fill="#3a0406"/>
<rect x="392.23" y="451.05" width="23.72" height="7.84" fill="#f41a26"/>
<rect x="423.86" y="451.05" width="7.91" height="7.84" fill="#c8161e"/>
<rect x="439.67" y="451.05" width="7.91" height="7.84" fill="#2cb024"/>
<rect x="447.58" y="451.05" width="7.91" height="7.84" fill="#f41a26"/>
<rect x="273.6" y="458.89" width="7.91" height="7.84" fill="#062c06"/>
<rect x="392.23" y="458.89" width="7.91" height="7.84" fill="#f41a26"/>
<rect x="400.13" y="458.89" width="7.91" height="7.84" fill="#c8161e"/>
<rect x="408.04" y="458.89" width="7.91" height="7.84" fill="#f41a26"/>
<rect x="423.86" y="458.89" width="7.91" height="7.84" fill="#780c10"/>
<rect x="455.49" y="458.89" width="7.91" height="7.84" fill="#780c10"/>
<rect x="400.13" y="466.74" width="7.91" height="7.84" fill="#780c10"/>
<rect x="447.58" y="466.74" width="7.91" height="7.84" fill="#780c10"/>
<rect x="273.6" y="474.58" width="7.91" height="7.84" fill="#2cb024"/>
<rect x="305.23" y="474.58" width="7.91" height="7.84" fill="#2cb024"/>
<rect x="321.05" y="474.58" width="7.91" height="7.84" fill="#f41a26"/>
<rect x="336.87" y="474.58" width="7.91" height="7.84" fill="#c8161e"/>
<rect x="344.77" y="474.58" width="7.91" height="7.84" fill="#f41a26"/>
<rect x="392.23" y="474.58" width="23.72" height="7.84" fill="#f41a26"/>
<rect x="423.86" y="474.58" width="7.91" height="7.84" fill="#f41a26"/>
<rect x="431.77" y="474.58" width="7.91" height="7.84" fill="#2cb024"/>
<rect x="439.67" y="474.58" width="7.91" height="7.84" fill="#125a12"/>
<rect x="447.58" y="474.58" width="15.82" height="7.84" fill="#2cb024"/>
<rect x="273.6" y="482.42" width="7.91" height="7.84" fill="#2cb024"/>
<rect x="281.51" y="482.42" width="7.91" height="7.84" fill="#44ea2c"/>
<rect x="289.42" y="482.42" width="7.91" height="7.84" fill="#125a12"/>
<rect x="297.33" y="482.42" width="7.91" height="7.84" fill="#f41a26"/>
<rect x="313.14" y="482.42" width="23.72" height="7.84" fill="#44ea2c"/>
<rect x="336.87" y="482.42" width="7.91" height="7.84" fill="#f41a26"/>
<rect x="344.77" y="482.42" width="7.91" height="7.84" fill="#2cb024"/>
<rect x="352.68" y="482.42" width="7.91" height="7.84" fill="#f41a26"/>
<rect x="368.5" y="482.42" width="23.72" height="7.84" fill="#44ea2c"/>
<rect x="392.23" y="482.42" width="39.54" height="7.84" fill="#f41a26"/>
<rect x="431.77" y="482.42" width="15.82" height="7.84" fill="#44ea2c"/>
<rect x="447.58" y="482.42" width="7.91" height="7.84" fill="#f41a26"/>
<rect x="455.49" y="482.42" width="7.91" height="7.84" fill="#780c10"/>
<rect x="273.6" y="490.26" width="7.91" height="7.84" fill="#125a12"/>
<rect x="305.23" y="490.26" width="15.82" height="7.84" fill="#125a12"/>
<rect x="384.32" y="490.26" width="7.91" height="7.84" fill="#125a12"/>
<rect x="392.23" y="490.26" width="7.91" height="7.84" fill="#780c10"/>
<rect x="400.13" y="490.26" width="7.91" height="7.84" fill="#f41a26"/>
<rect x="408.04" y="490.26" width="7.91" height="7.84" fill="#780c10"/>
<rect x="423.86" y="490.26" width="7.91" height="7.84" fill="#3a0406"/>
<rect x="439.67" y="490.26" width="7.91" height="7.84" fill="#125a12"/>
<rect x="447.58" y="490.26" width="7.91" height="7.84" fill="#f41a26"/>
<rect x="392.23" y="498.11" width="7.91" height="7.84" fill="#3a0406"/>
<rect x="400.13" y="498.11" width="7.91" height="7.84" fill="#780c10"/>
<rect x="423.86" y="498.11" width="7.91" height="7.84" fill="#780c10"/>
<rect x="447.58" y="498.11" width="7.91" height="7.84" fill="#780c10"/>
<rect x="281.51" y="505.95" width="7.91" height="7.84" fill="#780c10"/>
<rect x="297.33" y="505.95" width="7.91" height="7.84" fill="#f41a26"/>
<rect x="313.14" y="505.95" width="7.91" height="7.84" fill="#2cb024"/>
<rect x="328.96" y="505.95" width="7.91" height="7.84" fill="#125a12"/>
<rect x="392.23" y="505.95" width="7.91" height="7.84" fill="#c8161e"/>
<rect x="400.13" y="505.95" width="7.91" height="7.84" fill="#f41a26"/>
<rect x="408.04" y="505.95" width="7.91" height="7.84" fill="#c8161e"/>
<rect x="423.86" y="505.95" width="7.91" height="7.84" fill="#780c10"/>
<rect x="447.58" y="505.95" width="7.91" height="7.84" fill="#3a0406"/>
<rect x="455.49" y="505.95" width="7.91" height="7.84" fill="#2cb024"/>
<rect x="273.6" y="513.79" width="7.91" height="7.84" fill="#062c06"/>
<rect x="297.33" y="513.79" width="7.91" height="7.84" fill="#062c06"/>
<rect x="392.23" y="513.79" width="7.91" height="7.84" fill="#780c10"/>
<rect x="400.13" y="513.79" width="7.91" height="7.84" fill="#f41a26"/>
<rect x="423.86" y="513.79" width="7.91" height="7.84" fill="#3a0406"/>
<rect x="431.77" y="513.79" width="15.82" height="7.84" fill="#062c06"/>
<rect x="392.23" y="521.63" width="7.91" height="7.84" fill="#3a0406"/>
<rect x="400.13" y="521.63" width="7.91" height="7.84" fill="#f41a26"/>
<rect x="273.6" y="529.47" width="7.91" height="7.84" fill="#125a12"/>
<rect x="305.23" y="529.47" width="7.91" height="7.84" fill="#3a0406"/>
<rect x="400.13" y="529.47" width="7.91" height="7.84" fill="#f41a26"/>
<rect x="423.86" y="529.47" width="7.91" height="7.84" fill="#3a0406"/>
<rect x="431.77" y="529.47" width="15.82" height="7.84" fill="#2cb024"/>
<rect x="455.49" y="529.47" width="7.91" height="7.84" fill="#2cb024"/>
<rect x="392.23" y="537.32" width="7.91" height="7.84" fill="#780c10"/>
<rect x="400.13" y="537.32" width="7.91" height="7.84" fill="#f41a26"/>
<rect x="423.86" y="537.32" width="7.91" height="7.84" fill="#780c10"/>
<rect x="273.6" y="545.16" width="7.91" height="7.84" fill="#44ea2c"/>
<rect x="281.51" y="545.16" width="7.91" height="7.84" fill="#2cb024"/>
<rect x="336.87" y="545.16" width="7.91" height="7.84" fill="#780c10"/>
<rect x="352.68" y="545.16" width="7.91" height="7.84" fill="#2cb024"/>
<rect x="360.59" y="545.16" width="7.91" height="7.84" fill="#780c10"/>
<rect x="400.13" y="545.16" width="7.91" height="7.84" fill="#f41a26"/>
<rect x="415.95" y="545.16" width="7.91" height="7.84" fill="#2cb024"/>
<rect x="423.86" y="545.16" width="7.91" height="7.84" fill="#f41a26"/>
<rect x="431.77" y="545.16" width="15.82" height="7.84" fill="#2cb024"/>
<rect x="447.58" y="545.16" width="7.91" height="7.84" fill="#f41a26"/>
<rect x="455.49" y="545.16" width="7.91" height="7.84" fill="#3a0406"/>
<rect x="392.03" y="403.8" width="24.12" height="149.4" fill="none" stroke="#ecd070" stroke-width="0.9"/>
<rect x="423.66" y="403.8" width="8.31" height="149.4" fill="none" stroke="#ecd070" stroke-width="0.9"/>
</g>
<g font-size="7.5" stroke="#000" stroke-width="0.2"><text x="467.6" y="410.62">GB:R96525</text>
<text x="467.6" y="418.46" style="fill:#2a4fc4;stroke:#2a4fc4">CLDN5</text>
<text x="467.6" y="426.31">IGKC</text>
<text x="467.6" y="434.15">C5orf7</text>
<text x="467.6" y="441.99">GB:AI140281</text>
<text x="467.6" y="449.83" style="fill:#2a4fc4;stroke:#2a4fc4">TXNRD1</text>
<text x="467.6" y="457.67">PFDN2</text>
<text x="467.6" y="465.52">SDF2</text>
<text x="467.6" y="473.36">GB:KIAA0737</text>
<text x="467.6" y="481.2">GB:AA166719</text>
<text x="467.6" y="489.04">EGR1</text>
<text x="467.6" y="496.88">KLF5</text>
<text x="467.6" y="504.73">LGALS8</text>
<text x="467.6" y="512.57">APP</text>
<text x="467.6" y="520.41">THBD</text>
<text x="467.6" y="528.25">APOL3</text>
<text x="467.6" y="536.09">ACP5</text>
<text x="467.6" y="543.94">CKN1</text>
<text x="467.6" y="551.78" style="fill:#2a4fc4;stroke:#2a4fc4">GB:T80319</text></g>
<path d="M264.5 407.92L271.3 407.92 M264.5 415.76L271.3 415.76 M264.5 407.92L264.5 415.76 M229.6 411.84L264.5 411.84 M262.5 423.61L271.3 423.61 M262.5 431.45L271.3 431.45 M262.5 423.61L262.5 431.45 M249.3 427.53L262.5 427.53 M266.4 439.29L271.3 439.29 M269.7 447.13L271.3 447.13 M269.7 454.97L271.3 454.97 M269.7 447.13L269.7 454.97 M267.6 451.05L269.7 451.05 M267.6 462.82L271.3 462.82 M267.6 451.05L267.6 462.82 M266.4 456.93L267.6 456.93 M266.4 439.29L266.4 456.93 M259 448.11L266.4 448.11 M267.1 470.66L271.3 470.66 M267.1 478.5L271.3 478.5 M267.1 470.66L267.1 478.5 M264.5 474.58L267.1 474.58 M264.5 486.34L271.3 486.34 M264.5 474.58L264.5 486.34 M259 480.46L264.5 480.46 M259 448.11L259 480.46 M249.3 464.29L259 464.29 M249.3 427.53L249.3 464.29 M239 445.91L249.3 445.91 M268.8 494.18L271.3 494.18 M268.8 502.03L271.3 502.03 M268.8 494.18L268.8 502.03 M265.6 498.11L268.8 498.11 M269.9 509.87L271.3 509.87 M269.9 517.71L271.3 517.71 M269.9 509.87L269.9 517.71 M266.8 513.79L269.9 513.79 M266.8 525.55L271.3 525.55 M266.8 513.79L266.8 525.55 M265.6 519.67L266.8 519.67 M265.6 498.11L265.6 519.67 M263.4 508.89L265.6 508.89 M267.1 533.39L271.3 533.39 M267.1 541.24L271.3 541.24 M267.1 533.39L267.1 541.24 M263.4 537.32L267.1 537.32 M263.4 508.89L263.4 537.32 M254.7 523.1L263.4 523.1 M254.7 549.08L271.3 549.08 M254.7 523.1L254.7 549.08 M239 536.09L254.7 536.09 M239 445.91L239 536.09 M229.6 491L239 491 M229.6 411.84L229.6 491" fill="none" stroke="#000" stroke-width="1" stroke-linecap="square"/>
</g>
</svg>
</body></html>
